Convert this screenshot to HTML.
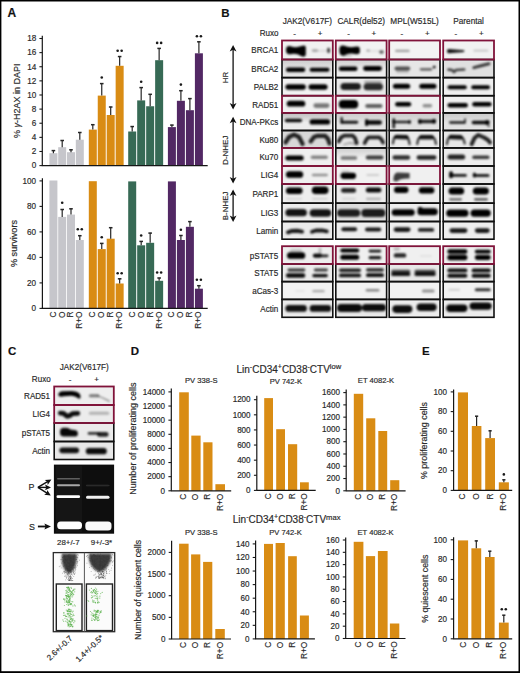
<!DOCTYPE html>
<html><head><meta charset="utf-8"><style>
html,body{margin:0;padding:0;background:#fff;}
svg{display:block;font-family:"Liberation Sans", sans-serif;}
text{stroke:#2a2a2a;stroke-width:0.18px;}
</style></head><body>
<svg width="520" height="673" viewBox="0 0 520 673">
<defs>
<filter id="bl" x="-20%" y="-50%" width="140%" height="200%"><feGaussianBlur stdDeviation="0.8"/></filter>
<linearGradient id="sh" x1="0" y1="0" x2="0" y2="1"><stop offset="0" stop-color="#b8b8b8"/><stop offset="1" stop-color="#b8b8b8" stop-opacity="0"/></linearGradient>
<filter id="bl2" x="-20%" y="-50%" width="140%" height="200%"><feGaussianBlur stdDeviation="0.6"/></filter>
<filter id="bl3" x="-20%" y="-50%" width="140%" height="200%"><feGaussianBlur stdDeviation="1.2"/></filter>
</defs>
<rect x="0" y="0" width="520" height="673" fill="#000"/>
<rect x="1.4" y="1.5" width="517.1" height="669.7" fill="#fff"/>
<text x="7.60" y="17.40" font-size="12" text-anchor="start" font-weight="bold" fill="#111" >A</text>
<rect x="49.40" y="153.20" width="8.00" height="12.40" fill="#c6c6cb" />
<rect x="58.20" y="147.20" width="8.00" height="18.40" fill="#c6c6cb" />
<rect x="67.00" y="152.20" width="8.00" height="13.40" fill="#c6c6cb" />
<rect x="75.80" y="139.70" width="8.00" height="25.90" fill="#c6c6cb" />
<rect x="88.80" y="129.60" width="8.00" height="36.00" fill="#d98c14" />
<rect x="97.75" y="95.60" width="8.00" height="70.00" fill="#d98c14" />
<rect x="106.70" y="115.00" width="8.00" height="50.60" fill="#d98c14" />
<rect x="115.65" y="65.80" width="8.00" height="99.80" fill="#d98c14" />
<rect x="128.20" y="131.50" width="8.00" height="34.10" fill="#376a55" />
<rect x="137.18" y="100.40" width="8.00" height="65.20" fill="#376a55" />
<rect x="146.16" y="106.25" width="8.00" height="59.35" fill="#376a55" />
<rect x="155.14" y="60.20" width="8.00" height="105.40" fill="#376a55" />
<rect x="167.90" y="127.10" width="8.00" height="38.50" fill="#522864" />
<rect x="176.90" y="100.80" width="8.00" height="64.80" fill="#522864" />
<rect x="185.90" y="110.20" width="8.00" height="55.40" fill="#522864" />
<rect x="194.90" y="53.30" width="8.00" height="112.30" fill="#522864" />
<line x1="53.40" y1="150.30" x2="53.40" y2="153.20" stroke="#262626" stroke-width="1.2" />
<line x1="51.60" y1="150.60" x2="55.20" y2="150.60" stroke="#262626" stroke-width="1.5" />
<line x1="62.20" y1="140.20" x2="62.20" y2="147.20" stroke="#262626" stroke-width="1.2" />
<line x1="60.40" y1="140.50" x2="64.00" y2="140.50" stroke="#262626" stroke-width="1.5" />
<line x1="71.00" y1="149.50" x2="71.00" y2="152.20" stroke="#262626" stroke-width="1.2" />
<line x1="69.20" y1="149.80" x2="72.80" y2="149.80" stroke="#262626" stroke-width="1.5" />
<line x1="79.80" y1="132.20" x2="79.80" y2="139.70" stroke="#262626" stroke-width="1.2" />
<line x1="78.00" y1="132.50" x2="81.60" y2="132.50" stroke="#262626" stroke-width="1.5" />
<line x1="92.80" y1="124.40" x2="92.80" y2="129.60" stroke="#262626" stroke-width="1.2" />
<line x1="91.00" y1="124.70" x2="94.60" y2="124.70" stroke="#262626" stroke-width="1.5" />
<line x1="101.75" y1="83.30" x2="101.75" y2="95.60" stroke="#262626" stroke-width="1.2" />
<line x1="99.95" y1="83.60" x2="103.55" y2="83.60" stroke="#262626" stroke-width="1.5" />
<circle cx="101.75" cy="77.50" r="1.3" fill="#1a1a1a"/>
<line x1="110.70" y1="106.70" x2="110.70" y2="115.00" stroke="#262626" stroke-width="1.2" />
<line x1="108.90" y1="107.00" x2="112.50" y2="107.00" stroke="#262626" stroke-width="1.5" />
<line x1="119.65" y1="56.25" x2="119.65" y2="65.80" stroke="#262626" stroke-width="1.2" />
<line x1="117.85" y1="56.55" x2="121.45" y2="56.55" stroke="#262626" stroke-width="1.5" />
<circle cx="117.65" cy="50.80" r="1.3" fill="#1a1a1a"/>
<circle cx="121.65" cy="50.80" r="1.3" fill="#1a1a1a"/>
<line x1="132.20" y1="126.25" x2="132.20" y2="131.50" stroke="#262626" stroke-width="1.2" />
<line x1="130.40" y1="126.55" x2="134.00" y2="126.55" stroke="#262626" stroke-width="1.5" />
<line x1="141.18" y1="87.30" x2="141.18" y2="100.40" stroke="#262626" stroke-width="1.2" />
<line x1="139.38" y1="87.60" x2="142.98" y2="87.60" stroke="#262626" stroke-width="1.5" />
<circle cx="141.18" cy="81.70" r="1.3" fill="#1a1a1a"/>
<line x1="150.16" y1="94.00" x2="150.16" y2="106.25" stroke="#262626" stroke-width="1.2" />
<line x1="148.36" y1="94.30" x2="151.96" y2="94.30" stroke="#262626" stroke-width="1.5" />
<line x1="159.14" y1="48.10" x2="159.14" y2="60.20" stroke="#262626" stroke-width="1.2" />
<line x1="157.34" y1="48.40" x2="160.94" y2="48.40" stroke="#262626" stroke-width="1.5" />
<circle cx="157.14" cy="42.90" r="1.3" fill="#1a1a1a"/>
<circle cx="161.14" cy="42.90" r="1.3" fill="#1a1a1a"/>
<line x1="171.90" y1="124.80" x2="171.90" y2="127.10" stroke="#262626" stroke-width="1.2" />
<line x1="170.10" y1="125.10" x2="173.70" y2="125.10" stroke="#262626" stroke-width="1.5" />
<line x1="180.90" y1="90.40" x2="180.90" y2="100.80" stroke="#262626" stroke-width="1.2" />
<line x1="179.10" y1="90.70" x2="182.70" y2="90.70" stroke="#262626" stroke-width="1.5" />
<circle cx="180.90" cy="84.60" r="1.3" fill="#1a1a1a"/>
<line x1="189.90" y1="98.30" x2="189.90" y2="110.20" stroke="#262626" stroke-width="1.2" />
<line x1="188.10" y1="98.60" x2="191.70" y2="98.60" stroke="#262626" stroke-width="1.5" />
<line x1="198.90" y1="41.50" x2="198.90" y2="53.30" stroke="#262626" stroke-width="1.2" />
<line x1="197.10" y1="41.80" x2="200.70" y2="41.80" stroke="#262626" stroke-width="1.5" />
<circle cx="196.90" cy="36.25" r="1.3" fill="#1a1a1a"/>
<circle cx="200.90" cy="36.25" r="1.3" fill="#1a1a1a"/>
<line x1="41.70" y1="165.60" x2="207.70" y2="165.60" stroke="#161616" stroke-width="1.2" />
<line x1="42.30" y1="35.80" x2="42.30" y2="165.60" stroke="#161616" stroke-width="1.2" />
<line x1="39.40" y1="165.60" x2="42.30" y2="165.60" stroke="#161616" stroke-width="1.08" />
<text x="0" y="0" font-size="8.61" text-anchor="end" font-weight="normal" fill="#2a2a2a" transform="translate(36.30 168.43) scale(0.95 1)" >0</text>
<line x1="39.40" y1="151.48" x2="42.30" y2="151.48" stroke="#161616" stroke-width="1.08" />
<text x="0" y="0" font-size="8.61" text-anchor="end" font-weight="normal" fill="#2a2a2a" transform="translate(36.30 154.31) scale(0.95 1)" >2</text>
<line x1="39.40" y1="137.36" x2="42.30" y2="137.36" stroke="#161616" stroke-width="1.08" />
<text x="0" y="0" font-size="8.61" text-anchor="end" font-weight="normal" fill="#2a2a2a" transform="translate(36.30 140.18) scale(0.95 1)" >4</text>
<line x1="39.40" y1="123.23" x2="42.30" y2="123.23" stroke="#161616" stroke-width="1.08" />
<text x="0" y="0" font-size="8.61" text-anchor="end" font-weight="normal" fill="#2a2a2a" transform="translate(36.30 126.06) scale(0.95 1)" >6</text>
<line x1="39.40" y1="109.11" x2="42.30" y2="109.11" stroke="#161616" stroke-width="1.08" />
<text x="0" y="0" font-size="8.61" text-anchor="end" font-weight="normal" fill="#2a2a2a" transform="translate(36.30 111.94) scale(0.95 1)" >8</text>
<line x1="39.40" y1="94.99" x2="42.30" y2="94.99" stroke="#161616" stroke-width="1.08" />
<text x="0" y="0" font-size="8.61" text-anchor="end" font-weight="normal" fill="#2a2a2a" transform="translate(36.30 97.82) scale(0.95 1)" >10</text>
<line x1="39.40" y1="80.87" x2="42.30" y2="80.87" stroke="#161616" stroke-width="1.08" />
<text x="0" y="0" font-size="8.61" text-anchor="end" font-weight="normal" fill="#2a2a2a" transform="translate(36.30 83.70) scale(0.95 1)" >12</text>
<line x1="39.40" y1="66.74" x2="42.30" y2="66.74" stroke="#161616" stroke-width="1.08" />
<text x="0" y="0" font-size="8.61" text-anchor="end" font-weight="normal" fill="#2a2a2a" transform="translate(36.30 69.57) scale(0.95 1)" >14</text>
<line x1="39.40" y1="52.62" x2="42.30" y2="52.62" stroke="#161616" stroke-width="1.08" />
<text x="0" y="0" font-size="8.61" text-anchor="end" font-weight="normal" fill="#2a2a2a" transform="translate(36.30 55.45) scale(0.95 1)" >16</text>
<line x1="39.40" y1="38.50" x2="42.30" y2="38.50" stroke="#161616" stroke-width="1.08" />
<text x="0" y="0" font-size="8.61" text-anchor="end" font-weight="normal" fill="#2a2a2a" transform="translate(36.30 41.33) scale(0.95 1)" >18</text>
<text x="19.90" y="100.80" font-size="9.0" text-anchor="middle" font-weight="normal" fill="#2a2a2a" transform="rotate(-90 19.90 100.80)" >% <tspan font-style="italic">γ</tspan>-H2AX in DAPI</text>
<rect x="49.40" y="180.50" width="8.00" height="127.90" fill="#c6c6cb" />
<rect x="58.20" y="216.90" width="8.00" height="91.50" fill="#c6c6cb" />
<rect x="67.00" y="214.60" width="8.00" height="93.80" fill="#c6c6cb" />
<rect x="75.80" y="240.00" width="8.00" height="68.40" fill="#c6c6cb" />
<rect x="88.80" y="181.20" width="8.00" height="127.20" fill="#d98c14" />
<rect x="97.75" y="249.10" width="8.00" height="59.30" fill="#d98c14" />
<rect x="106.70" y="238.70" width="8.00" height="69.70" fill="#d98c14" />
<rect x="115.65" y="283.50" width="8.00" height="24.90" fill="#d98c14" />
<rect x="128.20" y="181.40" width="8.00" height="127.00" fill="#376a55" />
<rect x="137.18" y="245.30" width="8.00" height="63.10" fill="#376a55" />
<rect x="146.16" y="242.80" width="8.00" height="65.60" fill="#376a55" />
<rect x="155.14" y="280.80" width="8.00" height="27.60" fill="#376a55" />
<rect x="167.90" y="181.40" width="8.00" height="127.00" fill="#522864" />
<rect x="176.90" y="240.00" width="8.00" height="68.40" fill="#522864" />
<rect x="185.90" y="226.80" width="8.00" height="81.60" fill="#522864" />
<rect x="194.90" y="288.70" width="8.00" height="19.70" fill="#522864" />
<line x1="62.20" y1="209.20" x2="62.20" y2="216.90" stroke="#262626" stroke-width="1.2" />
<line x1="60.40" y1="209.50" x2="64.00" y2="209.50" stroke="#262626" stroke-width="1.5" />
<circle cx="62.20" cy="202.80" r="1.3" fill="#1a1a1a"/>
<line x1="71.00" y1="208.50" x2="71.00" y2="214.60" stroke="#262626" stroke-width="1.2" />
<line x1="69.20" y1="208.80" x2="72.80" y2="208.80" stroke="#262626" stroke-width="1.5" />
<line x1="79.80" y1="235.40" x2="79.80" y2="240.00" stroke="#262626" stroke-width="1.2" />
<line x1="78.00" y1="235.70" x2="81.60" y2="235.70" stroke="#262626" stroke-width="1.5" />
<circle cx="77.80" cy="229.20" r="1.3" fill="#1a1a1a"/>
<circle cx="81.80" cy="229.20" r="1.3" fill="#1a1a1a"/>
<line x1="101.75" y1="243.10" x2="101.75" y2="249.10" stroke="#262626" stroke-width="1.2" />
<line x1="99.95" y1="243.40" x2="103.55" y2="243.40" stroke="#262626" stroke-width="1.5" />
<circle cx="101.75" cy="237.20" r="1.3" fill="#1a1a1a"/>
<line x1="110.70" y1="227.40" x2="110.70" y2="238.70" stroke="#262626" stroke-width="1.2" />
<line x1="108.90" y1="227.70" x2="112.50" y2="227.70" stroke="#262626" stroke-width="1.5" />
<line x1="119.65" y1="278.50" x2="119.65" y2="283.50" stroke="#262626" stroke-width="1.2" />
<line x1="117.85" y1="278.80" x2="121.45" y2="278.80" stroke="#262626" stroke-width="1.5" />
<circle cx="117.65" cy="273.30" r="1.3" fill="#1a1a1a"/>
<circle cx="121.65" cy="273.30" r="1.3" fill="#1a1a1a"/>
<line x1="141.18" y1="241.10" x2="141.18" y2="245.30" stroke="#262626" stroke-width="1.2" />
<line x1="139.38" y1="241.40" x2="142.98" y2="241.40" stroke="#262626" stroke-width="1.5" />
<circle cx="141.18" cy="235.50" r="1.3" fill="#1a1a1a"/>
<line x1="150.16" y1="232.80" x2="150.16" y2="242.80" stroke="#262626" stroke-width="1.2" />
<line x1="148.36" y1="233.10" x2="151.96" y2="233.10" stroke="#262626" stroke-width="1.5" />
<line x1="159.14" y1="277.70" x2="159.14" y2="280.80" stroke="#262626" stroke-width="1.2" />
<line x1="157.34" y1="278.00" x2="160.94" y2="278.00" stroke="#262626" stroke-width="1.5" />
<circle cx="157.14" cy="272.50" r="1.3" fill="#1a1a1a"/>
<circle cx="161.14" cy="272.50" r="1.3" fill="#1a1a1a"/>
<line x1="180.90" y1="235.20" x2="180.90" y2="240.00" stroke="#262626" stroke-width="1.2" />
<line x1="179.10" y1="235.50" x2="182.70" y2="235.50" stroke="#262626" stroke-width="1.5" />
<circle cx="180.90" cy="229.80" r="1.3" fill="#1a1a1a"/>
<line x1="189.90" y1="221.30" x2="189.90" y2="226.80" stroke="#262626" stroke-width="1.2" />
<line x1="188.10" y1="221.60" x2="191.70" y2="221.60" stroke="#262626" stroke-width="1.5" />
<line x1="198.90" y1="285.40" x2="198.90" y2="288.70" stroke="#262626" stroke-width="1.2" />
<line x1="197.10" y1="285.70" x2="200.70" y2="285.70" stroke="#262626" stroke-width="1.5" />
<circle cx="196.90" cy="279.80" r="1.3" fill="#1a1a1a"/>
<circle cx="200.90" cy="279.80" r="1.3" fill="#1a1a1a"/>
<line x1="41.70" y1="308.40" x2="207.70" y2="308.40" stroke="#161616" stroke-width="1.2" />
<line x1="42.40" y1="178.30" x2="42.40" y2="308.40" stroke="#161616" stroke-width="1.2" />
<line x1="39.50" y1="308.40" x2="42.40" y2="308.40" stroke="#161616" stroke-width="1.08" />
<text x="0" y="0" font-size="8.61" text-anchor="end" font-weight="normal" fill="#2a2a2a" transform="translate(36.00 311.23) scale(0.95 1)" >0</text>
<line x1="39.50" y1="282.90" x2="42.40" y2="282.90" stroke="#161616" stroke-width="1.08" />
<text x="0" y="0" font-size="8.61" text-anchor="end" font-weight="normal" fill="#2a2a2a" transform="translate(36.00 285.73) scale(0.95 1)" >20</text>
<line x1="39.50" y1="257.40" x2="42.40" y2="257.40" stroke="#161616" stroke-width="1.08" />
<text x="0" y="0" font-size="8.61" text-anchor="end" font-weight="normal" fill="#2a2a2a" transform="translate(36.00 260.23) scale(0.95 1)" >40</text>
<line x1="39.50" y1="231.90" x2="42.40" y2="231.90" stroke="#161616" stroke-width="1.08" />
<text x="0" y="0" font-size="8.61" text-anchor="end" font-weight="normal" fill="#2a2a2a" transform="translate(36.00 234.73) scale(0.95 1)" >60</text>
<line x1="39.50" y1="206.40" x2="42.40" y2="206.40" stroke="#161616" stroke-width="1.08" />
<text x="0" y="0" font-size="8.61" text-anchor="end" font-weight="normal" fill="#2a2a2a" transform="translate(36.00 209.23) scale(0.95 1)" >80</text>
<line x1="39.50" y1="180.90" x2="42.40" y2="180.90" stroke="#161616" stroke-width="1.08" />
<text x="0" y="0" font-size="8.61" text-anchor="end" font-weight="normal" fill="#2a2a2a" transform="translate(36.00 183.73) scale(0.95 1)" >100</text>
<text x="16.90" y="243.50" font-size="9.1" text-anchor="middle" font-weight="normal" fill="#2a2a2a" transform="rotate(-90 16.90 243.50)" >% survivors</text>
<text x="0" y="0" font-size="8.3" text-anchor="end" fill="#2a2a2a" transform="translate(55.89 311.50) rotate(-90)">C</text>
<text x="0" y="0" font-size="8.3" text-anchor="end" fill="#2a2a2a" transform="translate(64.69 311.50) rotate(-90)">O</text>
<text x="0" y="0" font-size="8.3" text-anchor="end" fill="#2a2a2a" transform="translate(73.49 311.50) rotate(-90)">R</text>
<text x="0" y="0" font-size="8.3" text-anchor="end" fill="#2a2a2a" transform="translate(82.29 311.50) rotate(-90)">R+O</text>
<text x="0" y="0" font-size="8.3" text-anchor="end" fill="#2a2a2a" transform="translate(95.29 311.50) rotate(-90)">C</text>
<text x="0" y="0" font-size="8.3" text-anchor="end" fill="#2a2a2a" transform="translate(104.24 311.50) rotate(-90)">O</text>
<text x="0" y="0" font-size="8.3" text-anchor="end" fill="#2a2a2a" transform="translate(113.19 311.50) rotate(-90)">R</text>
<text x="0" y="0" font-size="8.3" text-anchor="end" fill="#2a2a2a" transform="translate(122.14 311.50) rotate(-90)">R+O</text>
<text x="0" y="0" font-size="8.3" text-anchor="end" fill="#2a2a2a" transform="translate(134.69 311.50) rotate(-90)">C</text>
<text x="0" y="0" font-size="8.3" text-anchor="end" fill="#2a2a2a" transform="translate(143.67 311.50) rotate(-90)">O</text>
<text x="0" y="0" font-size="8.3" text-anchor="end" fill="#2a2a2a" transform="translate(152.65 311.50) rotate(-90)">R</text>
<text x="0" y="0" font-size="8.3" text-anchor="end" fill="#2a2a2a" transform="translate(161.63 311.50) rotate(-90)">R+O</text>
<text x="0" y="0" font-size="8.3" text-anchor="end" fill="#2a2a2a" transform="translate(174.39 311.50) rotate(-90)">C</text>
<text x="0" y="0" font-size="8.3" text-anchor="end" fill="#2a2a2a" transform="translate(183.39 311.50) rotate(-90)">O</text>
<text x="0" y="0" font-size="8.3" text-anchor="end" fill="#2a2a2a" transform="translate(192.39 311.50) rotate(-90)">R</text>
<text x="0" y="0" font-size="8.3" text-anchor="end" fill="#2a2a2a" transform="translate(201.39 311.50) rotate(-90)">R+O</text>
<text x="221.20" y="17.00" font-size="11.5" text-anchor="start" font-weight="bold" fill="#111" >B</text>
<text x="0" y="0" font-size="8.6" text-anchor="middle" font-weight="normal" fill="#2a2a2a" transform="translate(307.40 24.00) scale(0.96 1)" >JAK2(V617F)</text>
<text x="294.70" y="35.50" font-size="8" text-anchor="middle" font-weight="normal" fill="#2a2a2a" >-</text>
<text x="320.10" y="36.00" font-size="8" text-anchor="middle" font-weight="normal" fill="#2a2a2a" >+</text>
<text x="0" y="0" font-size="8.6" text-anchor="middle" font-weight="normal" fill="#2a2a2a" transform="translate(361.20 24.00) scale(0.96 1)" >CALR(del52)</text>
<text x="348.50" y="35.50" font-size="8" text-anchor="middle" font-weight="normal" fill="#2a2a2a" >-</text>
<text x="373.90" y="36.00" font-size="8" text-anchor="middle" font-weight="normal" fill="#2a2a2a" >+</text>
<text x="0" y="0" font-size="8.6" text-anchor="middle" font-weight="normal" fill="#2a2a2a" transform="translate(414.60 24.00) scale(0.96 1)" >MPL(W515L)</text>
<text x="401.90" y="35.50" font-size="8" text-anchor="middle" font-weight="normal" fill="#2a2a2a" >-</text>
<text x="427.30" y="36.00" font-size="8" text-anchor="middle" font-weight="normal" fill="#2a2a2a" >+</text>
<text x="0" y="0" font-size="8.6" text-anchor="middle" font-weight="normal" fill="#2a2a2a" transform="translate(468.60 24.00) scale(0.96 1)" >Parental</text>
<text x="455.90" y="35.50" font-size="8" text-anchor="middle" font-weight="normal" fill="#2a2a2a" >-</text>
<text x="481.30" y="36.00" font-size="8" text-anchor="middle" font-weight="normal" fill="#2a2a2a" >+</text>
<text x="0" y="0" font-size="8.7" text-anchor="end" font-weight="normal" fill="#2a2a2a" transform="translate(278.50 35.90) scale(0.93 1)" >Ruxo</text>
<text x="0" y="0" font-size="8.8" text-anchor="end" font-weight="normal" fill="#2a2a2a" transform="translate(278.30 53.40) scale(0.92 1)" >BRCA1</text>
<text x="0" y="0" font-size="8.8" text-anchor="end" font-weight="normal" fill="#2a2a2a" transform="translate(278.30 71.95) scale(0.92 1)" >BRCA2</text>
<text x="0" y="0" font-size="8.8" text-anchor="end" font-weight="normal" fill="#2a2a2a" transform="translate(278.30 90.05) scale(0.92 1)" >PALB2</text>
<text x="0" y="0" font-size="8.8" text-anchor="end" font-weight="normal" fill="#2a2a2a" transform="translate(278.30 107.70) scale(0.92 1)" >RAD51</text>
<text x="0" y="0" font-size="8.8" text-anchor="end" font-weight="normal" fill="#2a2a2a" transform="translate(278.30 125.10) scale(0.92 1)" >DNA-PKcs</text>
<text x="0" y="0" font-size="8.8" text-anchor="end" font-weight="normal" fill="#2a2a2a" transform="translate(278.30 142.60) scale(0.92 1)" >Ku80</text>
<text x="0" y="0" font-size="8.8" text-anchor="end" font-weight="normal" fill="#2a2a2a" transform="translate(278.30 160.35) scale(0.92 1)" >Ku70</text>
<text x="0" y="0" font-size="8.8" text-anchor="end" font-weight="normal" fill="#2a2a2a" transform="translate(278.30 178.40) scale(0.92 1)" >LIG4</text>
<text x="0" y="0" font-size="8.8" text-anchor="end" font-weight="normal" fill="#2a2a2a" transform="translate(278.30 197.00) scale(0.92 1)" >PARP1</text>
<text x="0" y="0" font-size="8.8" text-anchor="end" font-weight="normal" fill="#2a2a2a" transform="translate(278.30 215.75) scale(0.92 1)" >LIG3</text>
<text x="0" y="0" font-size="8.8" text-anchor="end" font-weight="normal" fill="#2a2a2a" transform="translate(278.30 233.75) scale(0.92 1)" >Lamin</text>
<text x="0" y="0" font-size="8.8" text-anchor="end" font-weight="normal" fill="#2a2a2a" transform="translate(278.30 258.50) scale(0.92 1)" >pSTAT5</text>
<text x="0" y="0" font-size="8.8" text-anchor="end" font-weight="normal" fill="#2a2a2a" transform="translate(278.30 276.20) scale(0.92 1)" >STAT5</text>
<text x="0" y="0" font-size="8.8" text-anchor="end" font-weight="normal" fill="#2a2a2a" transform="translate(278.30 293.90) scale(0.92 1)" >aCas-3</text>
<text x="0" y="0" font-size="8.8" text-anchor="end" font-weight="normal" fill="#2a2a2a" transform="translate(278.30 311.75) scale(0.92 1)" >Actin</text>
<line x1="233.10" y1="46.90" x2="233.10" y2="107.50" stroke="#111" stroke-width="1.3" />
<path d="M233.10 44.90 L229.70 51.50 L233.10 49.70 L236.50 51.50 Z" fill="#111"/>
<path d="M233.10 109.50 L229.70 102.90 L233.10 104.70 L236.50 102.90 Z" fill="#111"/>
<line x1="233.10" y1="118.70" x2="233.10" y2="181.50" stroke="#111" stroke-width="1.3" />
<path d="M233.10 116.70 L229.70 123.30 L233.10 121.50 L236.50 123.30 Z" fill="#111"/>
<path d="M233.10 183.50 L229.70 176.90 L233.10 178.70 L236.50 176.90 Z" fill="#111"/>
<line x1="233.10" y1="191.40" x2="233.10" y2="220.00" stroke="#111" stroke-width="1.3" />
<path d="M233.10 189.40 L229.70 196.00 L233.10 194.20 L236.50 196.00 Z" fill="#111"/>
<path d="M233.10 222.00 L229.70 215.40 L233.10 217.20 L236.50 215.40 Z" fill="#111"/>
<text x="228.30" y="77.50" font-size="7.8" text-anchor="middle" font-weight="normal" fill="#2a2a2a" transform="rotate(-90 228.30 77.50)" >HR</text>
<text x="228.30" y="150.20" font-size="8.0" text-anchor="middle" font-weight="normal" fill="#2a2a2a" transform="rotate(-90 228.30 150.20)" >D-NHEJ</text>
<text x="228.00" y="205.90" font-size="7.9" text-anchor="middle" font-weight="normal" fill="#2a2a2a" transform="rotate(-90 228.00 205.90)" >B-NHEJ</text>
<rect x="282.00" y="40.50" width="50.80" height="19.00" fill="#f1f1f1" />
<rect x="282.00" y="59.50" width="50.80" height="18.10" fill="#e6e6e6" />
<rect x="282.00" y="59.50" width="50.80" height="9.95" fill="url(#sh)" opacity="0.6"/>
<rect x="282.00" y="77.60" width="50.80" height="18.10" fill="#f2f2f2" />
<rect x="282.00" y="95.70" width="50.80" height="17.20" fill="#f2f2f2" />
<rect x="282.00" y="112.90" width="50.80" height="17.60" fill="#ececec" />
<rect x="282.00" y="112.90" width="50.80" height="9.68" fill="url(#sh)" opacity="0.9"/>
<rect x="282.00" y="130.50" width="50.80" height="17.40" fill="#d8d8d8" />
<rect x="282.00" y="147.90" width="50.80" height="18.10" fill="#efefef" />
<rect x="282.00" y="166.00" width="50.80" height="18.00" fill="#f0f0f0" />
<rect x="282.00" y="184.00" width="50.80" height="19.20" fill="#eeeeee" />
<rect x="282.00" y="203.20" width="50.80" height="18.30" fill="#ececec" />
<rect x="282.00" y="221.50" width="50.80" height="17.70" fill="#ececec" />
<rect x="282.00" y="246.20" width="50.80" height="17.80" fill="#eeeeee" />
<rect x="282.00" y="264.00" width="50.80" height="17.60" fill="#ececec" />
<rect x="282.00" y="281.60" width="50.80" height="17.80" fill="#f2f2f2" />
<rect x="282.00" y="299.40" width="50.80" height="17.90" fill="#ebebeb" />
<rect x="335.80" y="40.50" width="50.80" height="19.00" fill="#f2f2f2" />
<rect x="335.80" y="59.50" width="50.80" height="18.10" fill="#eeeeee" />
<rect x="335.80" y="59.50" width="50.80" height="9.95" fill="url(#sh)" opacity="0.6"/>
<rect x="335.80" y="77.60" width="50.80" height="18.10" fill="#e9e9e9" />
<rect x="335.80" y="95.70" width="50.80" height="17.20" fill="#f2f2f2" />
<rect x="335.80" y="112.90" width="50.80" height="17.60" fill="#e4e4e4" />
<rect x="335.80" y="112.90" width="50.80" height="9.68" fill="url(#sh)" opacity="0.6"/>
<rect x="335.80" y="130.50" width="50.80" height="17.40" fill="#e6e6e6" />
<rect x="335.80" y="147.90" width="50.80" height="18.10" fill="#eeeeee" />
<rect x="335.80" y="147.90" width="50.80" height="9.95" fill="url(#sh)" opacity="0.6"/>
<rect x="335.80" y="166.00" width="50.80" height="18.00" fill="#f1f1f1" />
<rect x="335.80" y="184.00" width="50.80" height="19.20" fill="#ececec" />
<rect x="335.80" y="203.20" width="50.80" height="18.30" fill="#dcdcdc" />
<rect x="335.80" y="221.50" width="50.80" height="17.70" fill="#eeeeee" />
<rect x="335.80" y="246.20" width="50.80" height="17.80" fill="#f0f0f0" />
<rect x="335.80" y="264.00" width="50.80" height="17.60" fill="#ececec" />
<rect x="335.80" y="281.60" width="50.80" height="17.80" fill="#f2f2f2" />
<rect x="335.80" y="299.40" width="50.80" height="17.90" fill="#e9e9e9" />
<rect x="389.20" y="40.50" width="50.80" height="19.00" fill="#f3f3f3" />
<rect x="389.20" y="59.50" width="50.80" height="18.10" fill="#e6e6e6" />
<rect x="389.20" y="77.60" width="50.80" height="18.10" fill="#eeeeee" />
<rect x="389.20" y="95.70" width="50.80" height="17.20" fill="#f0f0f0" />
<rect x="389.20" y="112.90" width="50.80" height="17.60" fill="#e2e2e2" />
<rect x="389.20" y="112.90" width="50.80" height="9.68" fill="url(#sh)" opacity="0.6"/>
<rect x="389.20" y="130.50" width="50.80" height="17.40" fill="#ebebeb" />
<rect x="389.20" y="147.90" width="50.80" height="18.10" fill="#f0f0f0" />
<rect x="389.20" y="166.00" width="50.80" height="18.00" fill="#f0f0f0" />
<rect x="389.20" y="184.00" width="50.80" height="19.20" fill="#eeeeee" />
<rect x="389.20" y="203.20" width="50.80" height="18.30" fill="#eeeeee" />
<rect x="389.20" y="221.50" width="50.80" height="17.70" fill="#eeeeee" />
<rect x="389.20" y="246.20" width="50.80" height="17.80" fill="#f0f0f0" />
<rect x="389.20" y="264.00" width="50.80" height="17.60" fill="#e8e8e8" />
<rect x="389.20" y="281.60" width="50.80" height="17.80" fill="#f2f2f2" />
<rect x="389.20" y="299.40" width="50.80" height="17.90" fill="#ececec" />
<rect x="443.20" y="40.50" width="50.80" height="19.00" fill="#f2f2f2" />
<rect x="443.20" y="59.50" width="50.80" height="18.10" fill="#e0e0e0" />
<rect x="443.20" y="77.60" width="50.80" height="18.10" fill="#efefef" />
<rect x="443.20" y="95.70" width="50.80" height="17.20" fill="#f0f0f0" />
<rect x="443.20" y="112.90" width="50.80" height="17.60" fill="#e2e2e2" />
<rect x="443.20" y="112.90" width="50.80" height="9.68" fill="url(#sh)" opacity="0.6"/>
<rect x="443.20" y="130.50" width="50.80" height="17.40" fill="#e8e8e8" />
<rect x="443.20" y="147.90" width="50.80" height="18.10" fill="#ececec" />
<rect x="443.20" y="166.00" width="50.80" height="18.00" fill="#ebebeb" />
<rect x="443.20" y="184.00" width="50.80" height="19.20" fill="#eeeeee" />
<rect x="443.20" y="203.20" width="50.80" height="18.30" fill="#eeeeee" />
<rect x="443.20" y="221.50" width="50.80" height="17.70" fill="#efefef" />
<rect x="443.20" y="246.20" width="50.80" height="17.80" fill="#efefef" />
<rect x="443.20" y="264.00" width="50.80" height="17.60" fill="#ececec" />
<rect x="443.20" y="281.60" width="50.80" height="17.80" fill="#f2f2f2" />
<rect x="443.20" y="299.40" width="50.80" height="17.90" fill="#ececec" />
<g filter="url(#bl)"><path d="M286 50 C286 46.3 288 45.8 290.5 46.2 Q296 48.2 301.5 46 Q305.8 44.3 305.8 47.5 L305.8 54.5 Q305.8 57.6 301.5 56.2 Q296 52.8 290.5 54.2 Q286 55 286 50 Z" fill="#000" fill-opacity="1.0"/><rect x="311.80" y="49.30" width="6.20" height="2.60" rx="1.30" fill="#000" fill-opacity="0.3"/><rect x="317.00" y="50.00" width="10.50" height="1.60" rx="0.80" fill="#000" fill-opacity="0.12"/><rect x="327.20" y="47.80" width="2.80" height="5.20" rx="1.30" fill="#000" fill-opacity="0.75"/><rect x="285.90" y="67.50" width="19.40" height="4.50" rx="2.25" fill="#000" fill-opacity="1.0"/><rect x="309.60" y="67.80" width="19.90" height="4.00" rx="2.00" fill="#000" fill-opacity="1.0"/><rect x="285.40" y="84.20" width="20.40" height="5.60" rx="2.80" fill="#000" fill-opacity="1.0"/><rect x="308.50" y="84.20" width="19.10" height="5.60" rx="2.80" fill="#000" fill-opacity="1.0"/><rect x="286.70" y="100.80" width="18.60" height="5.80" rx="2.90" fill="#000" fill-opacity="1.0"/><rect x="313.40" y="103.30" width="16.10" height="4.60" rx="2.30" fill="#000" fill-opacity="0.5"/><rect x="284.80" y="118.70" width="17.30" height="3.60" rx="1.80" fill="#000" fill-opacity="0.95"/><rect x="309.60" y="119.25" width="20.50" height="5.30" rx="2.65" fill="#000" fill-opacity="1.0"/><path d="M285.50 142.50 L289.00 137.00 L294.00 134.60 L299.00 137.00 L302.60 144.00" fill="none" stroke="#000" stroke-opacity="0.85" stroke-width="4.2" stroke-linecap="round" stroke-linejoin="round"/><path d="M310.70 141.40 L314.00 137.00 L317.70 135.80 L325.20 135.80 L328.00 139.00 L329.50 143.50" fill="none" stroke="#000" stroke-opacity="0.85" stroke-width="4.2" stroke-linecap="round" stroke-linejoin="round"/><rect x="285.40" y="155.60" width="18.30" height="5.00" rx="2.50" fill="#000" fill-opacity="1.0"/><rect x="310.70" y="155.60" width="17.20" height="3.40" rx="1.70" fill="#000" fill-opacity="0.45"/><rect x="285.90" y="171.15" width="17.30" height="6.70" rx="3.35" fill="#000" fill-opacity="1.0"/><rect x="311.80" y="173.70" width="16.10" height="2.60" rx="1.30" fill="#000" fill-opacity="0.4"/><rect x="285.90" y="187.40" width="16.70" height="6.60" rx="3.30" fill="#000" fill-opacity="1.0"/><rect x="311.80" y="186.40" width="16.70" height="7.60" rx="3.80" fill="#000" fill-opacity="1.0"/><rect x="286.00" y="197.80" width="16.00" height="2.00" rx="1.00" fill="#000" fill-opacity="0.1"/><rect x="312.00" y="197.80" width="16.00" height="2.00" rx="1.00" fill="#000" fill-opacity="0.12"/><rect x="285.40" y="209.10" width="21.50" height="7.20" rx="3.60" fill="#000" fill-opacity="0.92"/><rect x="309.60" y="209.20" width="21.60" height="7.60" rx="3.80" fill="#000" fill-opacity="0.92"/><path d="M288.00 232.30 L292.00 230.90 L297.00 230.70 L302.00 231.60" fill="none" stroke="#000" stroke-opacity="0.9" stroke-width="4.0" stroke-linecap="round" stroke-linejoin="round"/><path d="M312.00 231.80 L316.00 230.50 L322.00 230.40 L326.80 231.40" fill="none" stroke="#000" stroke-opacity="0.9" stroke-width="3.8" stroke-linecap="round" stroke-linejoin="round"/><rect x="287.00" y="252.15" width="18.30" height="6.70" rx="3.35" fill="#000" fill-opacity="1.0"/><rect x="290.00" y="249.00" width="12.00" height="3.00" rx="1.50" fill="#000" fill-opacity="0.18"/><rect x="312.80" y="254.40" width="15.70" height="2.80" rx="1.40" fill="#000" fill-opacity="0.85"/><rect x="313.00" y="253.50" width="9.00" height="4.20" rx="2.10" fill="#000" fill-opacity="0.85"/><rect x="318.50" y="247.50" width="3.00" height="7.00" rx="1.50" fill="#000" fill-opacity="0.22"/><rect x="287.50" y="268.55" width="17.80" height="2.90" rx="1.45" fill="#000" fill-opacity="0.8"/><rect x="285.90" y="273.35" width="19.40" height="4.50" rx="2.25" fill="#000" fill-opacity="0.95"/><rect x="313.90" y="268.55" width="14.00" height="2.90" rx="1.45" fill="#000" fill-opacity="0.75"/><rect x="312.30" y="273.90" width="15.60" height="3.40" rx="1.70" fill="#000" fill-opacity="0.95"/><rect x="312.30" y="290.10" width="12.40" height="2.20" rx="1.10" fill="#000" fill-opacity="0.3"/><rect x="295.00" y="290.00" width="10.00" height="2.00" rx="1.00" fill="#000" fill-opacity="0.05"/><rect x="285.40" y="305.00" width="21.50" height="6.80" rx="3.40" fill="#000" fill-opacity="0.93"/><rect x="309.60" y="305.00" width="21.60" height="6.80" rx="3.40" fill="#000" fill-opacity="0.93"/><path d="M339.4 50.5 C339.4 46 341 45.4 343.5 45.6 Q349.5 48 355 46.8 Q359.8 45.9 359.8 49 L359.8 52 Q359.8 54.7 355 54 Q349.5 52.4 344 55.6 Q339.4 56.3 339.4 50.5 Z" fill="#000" fill-opacity="1.0"/><rect x="342.00" y="55.00" width="10.00" height="2.00" rx="1.00" fill="#000" fill-opacity="0.15"/><rect x="366.30" y="49.40" width="3.50" height="2.40" rx="1.20" fill="#000" fill-opacity="0.3"/><rect x="369.00" y="50.25" width="10.50" height="1.50" rx="0.75" fill="#000" fill-opacity="0.1"/><rect x="379.20" y="50.30" width="4.60" height="3.40" rx="1.70" fill="#000" fill-opacity="0.6"/><rect x="338.80" y="66.45" width="18.70" height="4.50" rx="2.25" fill="#000" fill-opacity="1.0"/><rect x="363.10" y="66.10" width="18.80" height="4.80" rx="2.40" fill="#000" fill-opacity="1.0"/><rect x="340.50" y="82.90" width="20.40" height="7.20" rx="3.60" fill="#000" fill-opacity="0.88"/><rect x="363.60" y="83.20" width="19.40" height="7.00" rx="3.50" fill="#000" fill-opacity="0.82"/><rect x="364.00" y="80.50" width="18.00" height="3.00" rx="1.50" fill="#000" fill-opacity="0.25"/><rect x="338.80" y="99.90" width="19.40" height="8.60" rx="4.00" fill="#000" fill-opacity="1.0"/><rect x="365.20" y="104.10" width="17.30" height="4.00" rx="2.00" fill="#000" fill-opacity="0.6"/><rect x="340.50" y="117.10" width="2.30" height="6.60" rx="1.00" fill="#000" fill-opacity="0.9"/><rect x="340.50" y="120.75" width="17.70" height="2.90" rx="1.45" fill="#000" fill-opacity="0.9"/><rect x="365.20" y="120.25" width="16.70" height="4.50" rx="2.25" fill="#000" fill-opacity="0.95"/><rect x="365.00" y="119.00" width="3.20" height="7.00" rx="1.50" fill="#000" fill-opacity="0.95"/><path d="M338.80 141.40 L341.00 137.50 L344.20 135.70 L352.80 135.70 L355.00 138.00 L356.60 143.00" fill="none" stroke="#000" stroke-opacity="0.85" stroke-width="3.8" stroke-linecap="round" stroke-linejoin="round"/><path d="M344.00 144.50 L350.00 142.80 L356.00 144.20" fill="none" stroke="#000" stroke-opacity="0.3" stroke-width="1.8" stroke-linecap="round" stroke-linejoin="round"/><path d="M364.70 143.00 L366.50 139.50 L368.50 137.30 L379.20 137.30 L381.50 139.50 L383.00 142.50" fill="none" stroke="#000" stroke-opacity="0.85" stroke-width="3.8" stroke-linecap="round" stroke-linejoin="round"/><rect x="340.50" y="156.15" width="16.70" height="3.50" rx="1.75" fill="#000" fill-opacity="0.5"/><rect x="365.80" y="155.60" width="17.70" height="4.00" rx="2.00" fill="#000" fill-opacity="0.75"/><rect x="340.50" y="172.70" width="15.60" height="6.20" rx="3.10" fill="#000" fill-opacity="1.0"/><rect x="341.00" y="170.00" width="9.00" height="3.00" rx="1.50" fill="#000" fill-opacity="0.12"/><rect x="366.30" y="174.00" width="12.90" height="2.00" rx="1.00" fill="#000" fill-opacity="0.15"/><rect x="341.00" y="188.05" width="15.10" height="4.70" rx="2.35" fill="#000" fill-opacity="0.85"/><rect x="365.80" y="187.50" width="15.60" height="5.00" rx="2.50" fill="#000" fill-opacity="0.95"/><rect x="366.00" y="197.70" width="15.00" height="2.20" rx="1.10" fill="#000" fill-opacity="0.25"/><rect x="342.00" y="197.80" width="14.00" height="2.00" rx="1.00" fill="#000" fill-opacity="0.1"/><rect x="337.10" y="209.20" width="23.10" height="7.60" rx="3.80" fill="#000" fill-opacity="0.88"/><rect x="361.30" y="209.10" width="24.10" height="7.80" rx="3.90" fill="#000" fill-opacity="0.88"/><rect x="341.30" y="227.20" width="15.80" height="4.00" rx="2.00" fill="#000" fill-opacity="0.9"/><rect x="365.00" y="227.40" width="16.20" height="4.20" rx="2.10" fill="#000" fill-opacity="0.9"/><rect x="340.30" y="248.50" width="18.90" height="4.00" rx="2.00" fill="#000" fill-opacity="1.0"/><rect x="340.30" y="254.80" width="18.90" height="5.00" rx="2.50" fill="#000" fill-opacity="1.0"/><rect x="368.60" y="249.75" width="12.60" height="2.70" rx="1.35" fill="#000" fill-opacity="0.9"/><rect x="368.60" y="256.10" width="12.60" height="3.20" rx="1.60" fill="#000" fill-opacity="0.9"/><rect x="339.00" y="268.55" width="22.00" height="3.50" rx="1.75" fill="#000" fill-opacity="0.88"/><rect x="339.00" y="273.55" width="22.00" height="3.70" rx="1.85" fill="#000" fill-opacity="0.92"/><rect x="366.00" y="268.15" width="18.00" height="3.30" rx="1.65" fill="#000" fill-opacity="0.85"/><rect x="366.00" y="273.35" width="18.00" height="3.70" rx="1.85" fill="#000" fill-opacity="0.95"/><rect x="365.70" y="289.05" width="13.70" height="2.50" rx="1.25" fill="#000" fill-opacity="0.45"/><rect x="337.00" y="303.90" width="25.00" height="8.00" rx="4.00" fill="#000" fill-opacity="0.95"/><rect x="362.00" y="304.10" width="24.00" height="7.20" rx="3.60" fill="#000" fill-opacity="0.95"/><rect x="395.10" y="49.70" width="14.50" height="2.40" rx="1.20" fill="#000" fill-opacity="0.35"/><rect x="394.50" y="66.40" width="15.70" height="4.00" rx="2.00" fill="#000" fill-opacity="0.65"/><rect x="396.00" y="70.00" width="13.00" height="3.00" rx="1.50" fill="#000" fill-opacity="0.18"/><rect x="419.80" y="67.95" width="12.40" height="2.70" rx="1.35" fill="#000" fill-opacity="0.55"/><circle cx="434.2" cy="67.1" r="1.4" fill="#000"/><rect x="392.90" y="83.70" width="17.30" height="5.00" rx="2.50" fill="#000" fill-opacity="1.0"/><rect x="419.30" y="83.70" width="17.20" height="5.00" rx="2.50" fill="#000" fill-opacity="1.0"/><rect x="395.10" y="101.95" width="16.10" height="4.50" rx="2.25" fill="#000" fill-opacity="1.0"/><rect x="422.50" y="104.10" width="9.70" height="3.40" rx="1.70" fill="#000" fill-opacity="0.4"/><rect x="392.40" y="118.15" width="2.70" height="10.30" rx="1.20" fill="#000" fill-opacity="0.85"/><rect x="392.00" y="120.80" width="18.70" height="2.40" rx="1.20" fill="#000" fill-opacity="0.85"/><rect x="408.00" y="120.10" width="3.00" height="3.80" rx="1.90" fill="#000" fill-opacity="0.85"/><rect x="418.20" y="119.85" width="17.80" height="3.30" rx="1.65" fill="#000" fill-opacity="0.85"/><rect x="418.20" y="119.10" width="3.30" height="4.80" rx="1.50" fill="#000" fill-opacity="0.9"/><rect x="432.00" y="118.80" width="4.00" height="5.00" rx="2.00" fill="#000" fill-opacity="0.9"/><path d="M392.90 143.50 L394.00 138.00 L396.50 135.80 L406.50 136.20 L408.50 139.00 L409.60 144.10" fill="none" stroke="#000" stroke-opacity="0.8" stroke-width="2.2" stroke-linecap="round" stroke-linejoin="round"/><path d="M396.00 137.00 L406.50 137.40" fill="none" stroke="#000" stroke-opacity="0.85" stroke-width="4.2" stroke-linecap="round" stroke-linejoin="round"/><path d="M417.20 144.00 L418.30 139.00 L421.00 136.20 L432.00 136.20 L434.80 139.00 L436.00 144.00" fill="none" stroke="#000" stroke-opacity="0.8" stroke-width="2.2" stroke-linecap="round" stroke-linejoin="round"/><path d="M421.00 137.40 L432.00 137.40" fill="none" stroke="#000" stroke-opacity="0.85" stroke-width="4.2" stroke-linecap="round" stroke-linejoin="round"/><rect x="392.40" y="155.15" width="17.80" height="4.50" rx="2.25" fill="#000" fill-opacity="0.8"/><rect x="416.60" y="155.15" width="19.90" height="4.50" rx="2.25" fill="#000" fill-opacity="0.85"/><path d="M393.5 181 Q393 174 397 172.6 L409.6 173 L409.6 178.5 Q400 178 397 181.5 Z" fill="#000" fill-opacity="0.75"/><rect x="394.00" y="186.85" width="14.50" height="6.10" rx="3.05" fill="#000" fill-opacity="1.0"/><rect x="418.80" y="187.35" width="15.60" height="6.10" rx="3.05" fill="#000" fill-opacity="1.0"/><rect x="391.70" y="209.35" width="23.00" height="6.50" rx="3.25" fill="#000" fill-opacity="1.0"/><rect x="417.40" y="208.30" width="20.40" height="7.00" rx="3.50" fill="#000" fill-opacity="1.0"/><rect x="417.80" y="207.00" width="4.70" height="4.00" rx="1.50" fill="#000" fill-opacity="1.0"/><rect x="393.70" y="227.20" width="16.80" height="4.80" rx="2.40" fill="#000" fill-opacity="0.9"/><rect x="417.90" y="228.05" width="16.30" height="3.70" rx="1.85" fill="#000" fill-opacity="0.85"/><rect x="393.70" y="253.20" width="12.60" height="4.40" rx="2.20" fill="#000" fill-opacity="0.85"/><rect x="393.50" y="247.50" width="6.50" height="3.00" rx="1.50" fill="#000" fill-opacity="0.25"/><rect x="420.00" y="255.00" width="12.00" height="2.00" rx="1.00" fill="#000" fill-opacity="0.06"/><rect x="391.20" y="269.85" width="19.10" height="3.30" rx="1.65" fill="#000" fill-opacity="0.7"/><rect x="391.20" y="272.30" width="19.10" height="3.80" rx="1.90" fill="#000" fill-opacity="0.92"/><rect x="414.50" y="269.85" width="21.20" height="3.30" rx="1.65" fill="#000" fill-opacity="0.7"/><rect x="414.50" y="272.30" width="21.20" height="3.80" rx="1.90" fill="#000" fill-opacity="0.92"/><rect x="421.90" y="289.50" width="12.70" height="3.00" rx="1.50" fill="#000" fill-opacity="0.4"/><rect x="392.30" y="305.30" width="20.10" height="7.60" rx="3.80" fill="#000" fill-opacity="0.95"/><rect x="416.60" y="303.50" width="20.10" height="7.40" rx="3.70" fill="#000" fill-opacity="0.95"/><path d="M446.9 51.2 Q446.9 49 449 49.1 L464.2 50.3 L464.2 52.1 L449 53.3 Q446.9 53.4 446.9 51.2 Z" fill="#000" fill-opacity="0.92"/><rect x="473.30" y="49.70" width="15.10" height="1.80" rx="0.90" fill="#000" fill-opacity="0.2"/><path d="M448.50 69.60 L452.00 70.00 L454.00 72.00 L456.00 70.00 L464.20 69.50" fill="none" stroke="#000" stroke-opacity="0.7" stroke-width="2.6" stroke-linecap="round" stroke-linejoin="round"/><path d="M473.80 67.60 L481.00 65.80 L488.90 63.80" fill="none" stroke="#000" stroke-opacity="0.75" stroke-width="3.0" stroke-linecap="round" stroke-linejoin="round"/><rect x="447.50" y="85.30" width="19.30" height="4.00" rx="2.00" fill="#000" fill-opacity="1.0"/><rect x="471.20" y="85.30" width="18.80" height="4.00" rx="2.00" fill="#000" fill-opacity="1.0"/><rect x="447.50" y="103.05" width="20.40" height="4.50" rx="2.25" fill="#000" fill-opacity="1.0"/><rect x="472.20" y="101.95" width="19.40" height="4.50" rx="2.25" fill="#000" fill-opacity="1.0"/><rect x="449.10" y="121.35" width="16.10" height="2.30" rx="1.15" fill="#000" fill-opacity="0.9"/><rect x="464.30" y="118.30" width="1.50" height="5.40" rx="0.70" fill="#000" fill-opacity="0.9"/><rect x="471.70" y="120.80" width="17.80" height="3.40" rx="1.70" fill="#000" fill-opacity="0.95"/><rect x="485.00" y="119.90" width="4.50" height="5.20" rx="2.00" fill="#000" fill-opacity="0.95"/><rect x="487.50" y="125.00" width="2.30" height="2.00" rx="1.00" fill="#000" fill-opacity="0.7"/><path d="M446.90 144.10 L448.00 139.00 L450.70 135.80 L460.90 136.20 L463.50 139.00 L464.70 143.50" fill="none" stroke="#000" stroke-opacity="0.8" stroke-width="2.2" stroke-linecap="round" stroke-linejoin="round"/><path d="M450.70 137.20 L460.90 137.60" fill="none" stroke="#000" stroke-opacity="0.85" stroke-width="4.2" stroke-linecap="round" stroke-linejoin="round"/><path d="M471.70 144.10 L474.50 138.00 L478.20 135.00 L484.00 137.50 L488.00 140.00 L490.00 142.50" fill="none" stroke="#000" stroke-opacity="0.85" stroke-width="4.0" stroke-linecap="round" stroke-linejoin="round"/><rect x="447.50" y="154.50" width="17.70" height="5.00" rx="2.50" fill="#000" fill-opacity="0.85"/><rect x="472.20" y="155.60" width="17.30" height="3.40" rx="1.70" fill="#000" fill-opacity="0.75"/><rect x="449.10" y="171.30" width="3.90" height="7.00" rx="1.80" fill="#000" fill-opacity="0.95"/><rect x="449.10" y="174.05" width="17.70" height="2.70" rx="1.35" fill="#000" fill-opacity="0.9"/><rect x="472.80" y="172.50" width="3.20" height="5.00" rx="1.50" fill="#000" fill-opacity="0.85"/><rect x="472.80" y="174.00" width="16.70" height="3.00" rx="1.50" fill="#000" fill-opacity="0.85"/><rect x="448.50" y="187.40" width="15.70" height="7.20" rx="3.60" fill="#000" fill-opacity="1.0"/><rect x="449.00" y="198.15" width="13.00" height="2.30" rx="1.15" fill="#000" fill-opacity="0.6"/><rect x="472.80" y="187.40" width="16.10" height="7.20" rx="3.60" fill="#000" fill-opacity="1.0"/><rect x="474.00" y="198.15" width="14.00" height="2.30" rx="1.15" fill="#000" fill-opacity="0.7"/><rect x="446.30" y="209.60" width="22.20" height="7.20" rx="3.60" fill="#000" fill-opacity="1.0"/><rect x="470.60" y="209.60" width="20.10" height="7.20" rx="3.60" fill="#000" fill-opacity="1.0"/><rect x="449.50" y="228.30" width="17.90" height="4.60" rx="2.30" fill="#000" fill-opacity="0.9"/><rect x="474.90" y="228.30" width="14.80" height="4.60" rx="2.30" fill="#000" fill-opacity="0.9"/><rect x="447.30" y="249.35" width="20.10" height="4.50" rx="2.25" fill="#000" fill-opacity="1.0"/><rect x="447.30" y="254.85" width="20.10" height="5.30" rx="2.65" fill="#000" fill-opacity="1.0"/><rect x="474.80" y="249.75" width="15.90" height="3.70" rx="1.85" fill="#000" fill-opacity="1.0"/><rect x="474.80" y="255.10" width="15.90" height="4.80" rx="2.40" fill="#000" fill-opacity="1.0"/><rect x="447.30" y="268.50" width="20.10" height="3.80" rx="1.90" fill="#000" fill-opacity="0.95"/><rect x="447.30" y="273.80" width="20.10" height="4.00" rx="2.00" fill="#000" fill-opacity="0.95"/><rect x="471.60" y="268.50" width="19.10" height="3.80" rx="1.90" fill="#000" fill-opacity="0.95"/><rect x="471.60" y="273.80" width="19.10" height="4.00" rx="2.00" fill="#000" fill-opacity="0.95"/><rect x="448.40" y="288.70" width="11.60" height="2.00" rx="1.00" fill="#000" fill-opacity="0.15"/><rect x="474.80" y="288.20" width="15.90" height="3.00" rx="1.50" fill="#000" fill-opacity="0.8"/><rect x="446.20" y="304.50" width="21.20" height="7.40" rx="3.70" fill="#000" fill-opacity="0.97"/><rect x="469.50" y="302.40" width="22.20" height="7.40" rx="3.70" fill="#000" fill-opacity="0.97"/></g>
<rect x="282.00" y="59.50" width="50.80" height="18.10" fill="none" stroke="#111" stroke-width="1.6"/>
<rect x="282.00" y="77.60" width="50.80" height="18.10" fill="none" stroke="#111" stroke-width="1.6"/>
<rect x="282.00" y="112.90" width="50.80" height="17.60" fill="none" stroke="#111" stroke-width="1.6"/>
<rect x="282.00" y="130.50" width="50.80" height="17.40" fill="none" stroke="#111" stroke-width="1.6"/>
<rect x="282.00" y="184.00" width="50.80" height="19.20" fill="none" stroke="#111" stroke-width="1.6"/>
<rect x="282.00" y="203.20" width="50.80" height="18.30" fill="none" stroke="#111" stroke-width="1.6"/>
<rect x="282.00" y="221.50" width="50.80" height="17.70" fill="none" stroke="#111" stroke-width="1.6"/>
<rect x="282.00" y="264.00" width="50.80" height="17.60" fill="none" stroke="#111" stroke-width="1.6"/>
<rect x="282.00" y="281.60" width="50.80" height="17.80" fill="none" stroke="#111" stroke-width="1.6"/>
<rect x="282.00" y="299.40" width="50.80" height="17.90" fill="none" stroke="#111" stroke-width="1.6"/>
<rect x="282.00" y="40.50" width="50.80" height="19.00" fill="none" stroke="#80133a" stroke-width="1.8"/>
<rect x="282.00" y="95.70" width="50.80" height="17.20" fill="none" stroke="#80133a" stroke-width="1.8"/>
<rect x="282.00" y="147.90" width="50.80" height="18.10" fill="none" stroke="#80133a" stroke-width="1.8"/>
<rect x="282.00" y="166.00" width="50.80" height="18.00" fill="none" stroke="#80133a" stroke-width="1.8"/>
<rect x="282.00" y="246.20" width="50.80" height="17.80" fill="none" stroke="#80133a" stroke-width="1.8"/>
<rect x="335.80" y="59.50" width="50.80" height="18.10" fill="none" stroke="#111" stroke-width="1.6"/>
<rect x="335.80" y="77.60" width="50.80" height="18.10" fill="none" stroke="#111" stroke-width="1.6"/>
<rect x="335.80" y="112.90" width="50.80" height="17.60" fill="none" stroke="#111" stroke-width="1.6"/>
<rect x="335.80" y="130.50" width="50.80" height="17.40" fill="none" stroke="#111" stroke-width="1.6"/>
<rect x="335.80" y="147.90" width="50.80" height="18.10" fill="none" stroke="#111" stroke-width="1.6"/>
<rect x="335.80" y="184.00" width="50.80" height="19.20" fill="none" stroke="#111" stroke-width="1.6"/>
<rect x="335.80" y="203.20" width="50.80" height="18.30" fill="none" stroke="#111" stroke-width="1.6"/>
<rect x="335.80" y="221.50" width="50.80" height="17.70" fill="none" stroke="#111" stroke-width="1.6"/>
<rect x="335.80" y="264.00" width="50.80" height="17.60" fill="none" stroke="#111" stroke-width="1.6"/>
<rect x="335.80" y="281.60" width="50.80" height="17.80" fill="none" stroke="#111" stroke-width="1.6"/>
<rect x="335.80" y="299.40" width="50.80" height="17.90" fill="none" stroke="#111" stroke-width="1.6"/>
<rect x="335.80" y="40.50" width="50.80" height="19.00" fill="none" stroke="#80133a" stroke-width="1.8"/>
<rect x="335.80" y="95.70" width="50.80" height="17.20" fill="none" stroke="#80133a" stroke-width="1.8"/>
<rect x="335.80" y="166.00" width="50.80" height="18.00" fill="none" stroke="#80133a" stroke-width="1.8"/>
<rect x="335.80" y="246.20" width="50.80" height="17.80" fill="none" stroke="#80133a" stroke-width="1.8"/>
<rect x="389.20" y="59.50" width="50.80" height="18.10" fill="none" stroke="#111" stroke-width="1.6"/>
<rect x="389.20" y="77.60" width="50.80" height="18.10" fill="none" stroke="#111" stroke-width="1.6"/>
<rect x="389.20" y="112.90" width="50.80" height="17.60" fill="none" stroke="#111" stroke-width="1.6"/>
<rect x="389.20" y="130.50" width="50.80" height="17.40" fill="none" stroke="#111" stroke-width="1.6"/>
<rect x="389.20" y="147.90" width="50.80" height="18.10" fill="none" stroke="#111" stroke-width="1.6"/>
<rect x="389.20" y="184.00" width="50.80" height="19.20" fill="none" stroke="#111" stroke-width="1.6"/>
<rect x="389.20" y="203.20" width="50.80" height="18.30" fill="none" stroke="#111" stroke-width="1.6"/>
<rect x="389.20" y="221.50" width="50.80" height="17.70" fill="none" stroke="#111" stroke-width="1.6"/>
<rect x="389.20" y="264.00" width="50.80" height="17.60" fill="none" stroke="#111" stroke-width="1.6"/>
<rect x="389.20" y="281.60" width="50.80" height="17.80" fill="none" stroke="#111" stroke-width="1.6"/>
<rect x="389.20" y="299.40" width="50.80" height="17.90" fill="none" stroke="#111" stroke-width="1.6"/>
<rect x="389.20" y="40.50" width="50.80" height="19.00" fill="none" stroke="#80133a" stroke-width="1.8"/>
<rect x="389.20" y="95.70" width="50.80" height="17.20" fill="none" stroke="#80133a" stroke-width="1.8"/>
<rect x="389.20" y="166.00" width="50.80" height="18.00" fill="none" stroke="#80133a" stroke-width="1.8"/>
<rect x="389.20" y="246.20" width="50.80" height="17.80" fill="none" stroke="#80133a" stroke-width="1.8"/>
<rect x="443.20" y="59.50" width="50.80" height="18.10" fill="none" stroke="#111" stroke-width="1.6"/>
<rect x="443.20" y="77.60" width="50.80" height="18.10" fill="none" stroke="#111" stroke-width="1.6"/>
<rect x="443.20" y="95.70" width="50.80" height="17.20" fill="none" stroke="#111" stroke-width="1.6"/>
<rect x="443.20" y="112.90" width="50.80" height="17.60" fill="none" stroke="#111" stroke-width="1.6"/>
<rect x="443.20" y="130.50" width="50.80" height="17.40" fill="none" stroke="#111" stroke-width="1.6"/>
<rect x="443.20" y="147.90" width="50.80" height="18.10" fill="none" stroke="#111" stroke-width="1.6"/>
<rect x="443.20" y="166.00" width="50.80" height="18.00" fill="none" stroke="#111" stroke-width="1.6"/>
<rect x="443.20" y="184.00" width="50.80" height="19.20" fill="none" stroke="#111" stroke-width="1.6"/>
<rect x="443.20" y="203.20" width="50.80" height="18.30" fill="none" stroke="#111" stroke-width="1.6"/>
<rect x="443.20" y="221.50" width="50.80" height="17.70" fill="none" stroke="#111" stroke-width="1.6"/>
<rect x="443.20" y="264.00" width="50.80" height="17.60" fill="none" stroke="#111" stroke-width="1.6"/>
<rect x="443.20" y="281.60" width="50.80" height="17.80" fill="none" stroke="#111" stroke-width="1.6"/>
<rect x="443.20" y="299.40" width="50.80" height="17.90" fill="none" stroke="#111" stroke-width="1.6"/>
<rect x="443.20" y="40.50" width="50.80" height="19.00" fill="none" stroke="#80133a" stroke-width="1.8"/>
<rect x="443.20" y="246.20" width="50.80" height="17.80" fill="none" stroke="#80133a" stroke-width="1.8"/>
<text x="7.90" y="354.90" font-size="11.5" text-anchor="start" font-weight="bold" fill="#111" >C</text>
<text x="0" y="0" font-size="8.6" text-anchor="middle" font-weight="normal" fill="#2a2a2a" transform="translate(84.20 370.00) scale(0.95 1)" >JAK2(V617F)</text>
<text x="0" y="0" font-size="8.7" text-anchor="end" font-weight="normal" fill="#2a2a2a" transform="translate(50.70 382.30) scale(0.93 1)" >Ruxo</text>
<text x="70.20" y="381.70" font-size="8" text-anchor="middle" font-weight="normal" fill="#2a2a2a" >-</text>
<text x="96.50" y="382.20" font-size="8" text-anchor="middle" font-weight="normal" fill="#2a2a2a" >+</text>
<rect x="54.20" y="386.50" width="59.60" height="18.50" fill="#eeeeee" />
<text x="0" y="0" font-size="8.8" text-anchor="end" font-weight="normal" fill="#2a2a2a" transform="translate(50.10 399.15) scale(0.92 1)" >RAD51</text>
<rect x="54.20" y="405.00" width="59.60" height="18.00" fill="#ececec" />
<text x="0" y="0" font-size="8.8" text-anchor="end" font-weight="normal" fill="#2a2a2a" transform="translate(50.10 417.40) scale(0.92 1)" >LIG4</text>
<rect x="54.20" y="423.00" width="59.60" height="18.50" fill="#ebebeb" />
<text x="0" y="0" font-size="8.8" text-anchor="end" font-weight="normal" fill="#2a2a2a" transform="translate(50.10 435.65) scale(0.92 1)" >pSTAT5</text>
<rect x="54.20" y="441.50" width="59.60" height="18.00" fill="#e8e8e8" />
<text x="0" y="0" font-size="8.8" text-anchor="end" font-weight="normal" fill="#2a2a2a" transform="translate(50.10 453.90) scale(0.92 1)" >Actin</text>
<g filter="url(#bl)"><path d="M58.2 395 Q58.5 391.8 62 391.2 L72 390.9 Q77 391 79.5 393.5 Q81.2 396 80.3 398.2 Q79 399.4 77 397.6 Q74.5 396 71 395.8 L64 396.3 Q59 397.6 58.2 395 Z" fill="#000"/><rect x="88.90" y="394.20" width="10.50" height="3.00" rx="1.50" fill="#000" fill-opacity="0.5"/><path d="M98.00 396.00 L103.00 398.00 L109.20 401.20" fill="none" stroke="#000" stroke-opacity="0.45" stroke-width="1.3" stroke-linecap="round" stroke-linejoin="round"/><path d="M60.30 413.20 L63.50 413.40 L66.00 415.50 L67.60 416.30 L69.50 415.80 L72.50 413.60 L77.80 413.30" fill="none" stroke="#000" stroke-opacity="0.95" stroke-width="4.8" stroke-linecap="round" stroke-linejoin="round"/><rect x="88.90" y="411.80" width="20.30" height="3.00" rx="1.50" fill="#000" fill-opacity="0.25"/><path d="M60 431.5 Q60 427.8 64 427.8 L68 428 Q70 429.8 74 430 Q77.8 430.2 77.8 433 L77.8 434.5 Q77.8 436.5 74 436.5 L64 436.5 Q60 436.5 60 433 Z" fill="#000" fill-opacity="0.97"/><rect x="87.70" y="432.10" width="12.30" height="2.60" rx="1.30" fill="#000" fill-opacity="0.8"/><rect x="97.00" y="432.00" width="11.60" height="4.80" rx="2.40" fill="#000" fill-opacity="0.85"/><rect x="59.40" y="447.40" width="19.70" height="5.80" rx="2.90" fill="#000" fill-opacity="0.93"/><rect x="85.80" y="448.10" width="21.00" height="6.20" rx="3.10" fill="#000" fill-opacity="0.95"/></g>
<rect x="54.2" y="423.00" width="59.6" height="18.50" fill="none" stroke="#111" stroke-width="1.6"/>
<rect x="54.2" y="441.50" width="59.6" height="18.00" fill="none" stroke="#111" stroke-width="1.6"/>
<rect x="54.2" y="386.50" width="59.6" height="18.50" fill="none" stroke="#80133a" stroke-width="1.8"/>
<rect x="54.2" y="405.00" width="59.6" height="18.00" fill="none" stroke="#80133a" stroke-width="1.8"/>
<rect x="53.90" y="464.60" width="60.20" height="69.10" fill="#0e0e0e" />
<rect x="56.00" y="466.00" width="26.00" height="66.00" fill="#151515" />
<g filter="url(#bl2)"><rect x="57" y="477.95" width="23.00" height="1.5" rx="0.75" fill="#5e5e5e"/><rect x="57" y="484.35" width="23.00" height="1.9" rx="0.95" fill="#a8a8a8"/><rect x="86" y="484.75" width="23.50" height="1.5" rx="0.75" fill="#2c2c2c"/><rect x="56.5" y="495.35" width="23.60" height="2.7" rx="1.35" fill="#ffffff"/><rect x="86" y="495.80" width="23.50" height="3.0" rx="1.50" fill="#f0f0f0"/><rect x="57.2" y="521.50" width="24.80" height="7.8" rx="3.50" fill="#ffffff"/><rect x="85.3" y="521.60" width="26.20" height="9.0" rx="3.50" fill="#fafafa"/></g>
<text x="28.40" y="489.90" font-size="8.9" text-anchor="start" font-weight="normal" fill="#2a2a2a" >P</text>
<text x="29.00" y="530.20" font-size="8.9" text-anchor="start" font-weight="normal" fill="#2a2a2a" >S</text>
<g transform="translate(37.9 487.4) rotate(-30.7)"><line x1="0" y1="0" x2="11.69" y2="0" stroke="#111" stroke-width="1.4"/><path d="M15.69 0 l-6 -2.9 l1.2 2.9 l-1.2 2.9 z" fill="#111"/></g>
<g transform="translate(37.9 487.4) rotate(0.0)"><line x1="0" y1="0" x2="9.10" y2="0" stroke="#111" stroke-width="1.4"/><path d="M13.10 0 l-6 -2.9 l1.2 2.9 l-1.2 2.9 z" fill="#111"/></g>
<g transform="translate(37.9 487.4) rotate(32.4)"><line x1="0" y1="0" x2="11.29" y2="0" stroke="#111" stroke-width="1.4"/><path d="M15.29 0 l-6 -2.9 l1.2 2.9 l-1.2 2.9 z" fill="#111"/></g>
<line x1="37.90" y1="526.50" x2="46.00" y2="526.50" stroke="#111" stroke-width="1.8" />
<path d="M51 526.5 l-6.6 -3.0 l1.2 3.0 l-1.2 3.0 z" fill="#111"/>
<text x="68.30" y="544.50" font-size="7.9" text-anchor="middle" font-weight="normal" fill="#2a2a2a" >28+/-7</text>
<text x="101.50" y="544.50" font-size="7.9" text-anchor="middle" font-weight="normal" fill="#2a2a2a" >9+/-3*</text>
<rect x="53.30" y="552.60" width="61.40" height="79.10" fill="#fbfbfb" stroke="#2a2a2a" stroke-width="1.3"/>
<line x1="84.40" y1="552.60" x2="84.40" y2="631.70" stroke="#555" stroke-width="1.0" />
<g filter="url(#bl3)"><path d="M62 553.5 L76.5 553.5 Q77.5 562 74.5 568 Q71.5 573.5 69 573.5 Q66 573 63.5 567.5 Q61 562 62 553.5 Z" fill="#2c2c2c" fill-opacity="0.92"/><path d="M89 553.5 L111.2 553.5 Q112 561 107 567 Q103 572 99.5 572 Q95 571 91.5 566 Q88 561 89 553.5 Z" fill="#2c2c2c" fill-opacity="0.92"/></g>
<g><rect x="73.1" y="564.5" width="0.7" height="0.7" fill="#333" fill-opacity="0.6"/><rect x="76.1" y="556.8" width="0.7" height="0.7" fill="#333" fill-opacity="0.6"/><rect x="68.5" y="569.9" width="0.7" height="0.7" fill="#333" fill-opacity="0.6"/><rect x="70.2" y="569.2" width="0.7" height="0.7" fill="#333" fill-opacity="0.6"/><rect x="67.2" y="555.5" width="0.7" height="0.7" fill="#333" fill-opacity="0.6"/><rect x="70.2" y="557.5" width="0.7" height="0.7" fill="#333" fill-opacity="0.6"/><rect x="70.2" y="567.1" width="0.7" height="0.7" fill="#333" fill-opacity="0.6"/><rect x="67.1" y="561.6" width="0.7" height="0.7" fill="#333" fill-opacity="0.6"/><rect x="73.1" y="572.1" width="0.7" height="0.7" fill="#333" fill-opacity="0.6"/><rect x="67.6" y="566.4" width="0.7" height="0.7" fill="#333" fill-opacity="0.6"/><rect x="72.5" y="580.0" width="0.7" height="0.7" fill="#333" fill-opacity="0.6"/><rect x="71.9" y="563.5" width="0.7" height="0.7" fill="#333" fill-opacity="0.6"/><rect x="72.7" y="559.2" width="0.7" height="0.7" fill="#333" fill-opacity="0.6"/><rect x="70.6" y="576.4" width="0.7" height="0.7" fill="#333" fill-opacity="0.6"/><rect x="62.9" y="560.4" width="0.7" height="0.7" fill="#333" fill-opacity="0.6"/><rect x="66.4" y="565.8" width="0.7" height="0.7" fill="#333" fill-opacity="0.6"/><rect x="70.4" y="570.2" width="0.7" height="0.7" fill="#333" fill-opacity="0.6"/><rect x="70.0" y="561.1" width="0.7" height="0.7" fill="#333" fill-opacity="0.6"/><rect x="67.1" y="573.3" width="0.7" height="0.7" fill="#333" fill-opacity="0.6"/><rect x="70.5" y="571.1" width="0.7" height="0.7" fill="#333" fill-opacity="0.6"/><rect x="67.2" y="567.8" width="0.7" height="0.7" fill="#333" fill-opacity="0.6"/><rect x="74.0" y="573.8" width="0.7" height="0.7" fill="#333" fill-opacity="0.6"/><rect x="64.0" y="562.2" width="0.7" height="0.7" fill="#333" fill-opacity="0.6"/><rect x="68.2" y="577.8" width="0.7" height="0.7" fill="#333" fill-opacity="0.6"/><rect x="67.5" y="574.5" width="0.7" height="0.7" fill="#333" fill-opacity="0.6"/><rect x="69.4" y="566.9" width="0.7" height="0.7" fill="#333" fill-opacity="0.6"/><rect x="67.2" y="568.7" width="0.7" height="0.7" fill="#333" fill-opacity="0.6"/><rect x="64.3" y="555.5" width="0.7" height="0.7" fill="#333" fill-opacity="0.6"/><rect x="64.4" y="570.8" width="0.7" height="0.7" fill="#333" fill-opacity="0.6"/><rect x="68.1" y="577.8" width="0.7" height="0.7" fill="#333" fill-opacity="0.6"/><rect x="73.9" y="571.3" width="0.7" height="0.7" fill="#333" fill-opacity="0.6"/><rect x="63.3" y="571.0" width="0.7" height="0.7" fill="#333" fill-opacity="0.6"/><rect x="70.2" y="579.3" width="0.7" height="0.7" fill="#333" fill-opacity="0.6"/><rect x="68.6" y="568.4" width="0.7" height="0.7" fill="#333" fill-opacity="0.6"/><rect x="68.5" y="573.8" width="0.7" height="0.7" fill="#333" fill-opacity="0.6"/><rect x="74.9" y="572.6" width="0.7" height="0.7" fill="#333" fill-opacity="0.6"/><rect x="68.9" y="563.4" width="0.7" height="0.7" fill="#333" fill-opacity="0.6"/><rect x="68.9" y="566.1" width="0.7" height="0.7" fill="#333" fill-opacity="0.6"/><rect x="68.6" y="568.0" width="0.7" height="0.7" fill="#333" fill-opacity="0.6"/><rect x="70.7" y="560.0" width="0.7" height="0.7" fill="#333" fill-opacity="0.6"/><rect x="69.9" y="575.4" width="0.7" height="0.7" fill="#333" fill-opacity="0.6"/><rect x="69.4" y="558.8" width="0.7" height="0.7" fill="#333" fill-opacity="0.6"/><rect x="71.4" y="577.7" width="0.7" height="0.7" fill="#333" fill-opacity="0.6"/><rect x="62.4" y="557.1" width="0.7" height="0.7" fill="#333" fill-opacity="0.6"/><rect x="70.1" y="578.0" width="0.7" height="0.7" fill="#333" fill-opacity="0.6"/><rect x="70.5" y="576.5" width="0.7" height="0.7" fill="#333" fill-opacity="0.6"/><rect x="66.9" y="566.9" width="0.7" height="0.7" fill="#333" fill-opacity="0.6"/><rect x="77.3" y="565.4" width="0.7" height="0.7" fill="#333" fill-opacity="0.6"/><rect x="60.4" y="559.4" width="0.7" height="0.7" fill="#333" fill-opacity="0.6"/><rect x="69.7" y="560.2" width="0.7" height="0.7" fill="#333" fill-opacity="0.6"/><rect x="72.0" y="568.6" width="0.7" height="0.7" fill="#333" fill-opacity="0.6"/><rect x="69.3" y="571.2" width="0.7" height="0.7" fill="#333" fill-opacity="0.6"/><rect x="69.7" y="567.0" width="0.7" height="0.7" fill="#333" fill-opacity="0.6"/><rect x="59.8" y="565.7" width="0.7" height="0.7" fill="#333" fill-opacity="0.6"/><rect x="66.5" y="573.6" width="0.7" height="0.7" fill="#333" fill-opacity="0.6"/><rect x="65.3" y="569.4" width="0.7" height="0.7" fill="#333" fill-opacity="0.6"/><rect x="63.3" y="556.1" width="0.7" height="0.7" fill="#333" fill-opacity="0.6"/><rect x="70.1" y="578.3" width="0.7" height="0.7" fill="#333" fill-opacity="0.6"/><rect x="64.5" y="576.0" width="0.7" height="0.7" fill="#333" fill-opacity="0.6"/><rect x="67.8" y="566.3" width="0.7" height="0.7" fill="#333" fill-opacity="0.6"/><rect x="70.1" y="572.3" width="0.7" height="0.7" fill="#333" fill-opacity="0.6"/><rect x="73.0" y="556.4" width="0.7" height="0.7" fill="#333" fill-opacity="0.6"/><rect x="70.8" y="559.8" width="0.7" height="0.7" fill="#333" fill-opacity="0.6"/><rect x="69.4" y="564.9" width="0.7" height="0.7" fill="#333" fill-opacity="0.6"/><rect x="69.3" y="559.5" width="0.7" height="0.7" fill="#333" fill-opacity="0.6"/><rect x="68.5" y="557.8" width="0.7" height="0.7" fill="#333" fill-opacity="0.6"/><rect x="69.7" y="577.7" width="0.7" height="0.7" fill="#333" fill-opacity="0.6"/><rect x="70.7" y="571.8" width="0.7" height="0.7" fill="#333" fill-opacity="0.6"/><rect x="71.9" y="565.1" width="0.7" height="0.7" fill="#333" fill-opacity="0.6"/><rect x="75.2" y="565.5" width="0.7" height="0.7" fill="#333" fill-opacity="0.6"/><rect x="71.5" y="580.4" width="0.7" height="0.7" fill="#333" fill-opacity="0.6"/><rect x="67.7" y="568.2" width="0.7" height="0.7" fill="#333" fill-opacity="0.6"/><rect x="69.5" y="557.9" width="0.7" height="0.7" fill="#333" fill-opacity="0.6"/><rect x="68.5" y="565.0" width="0.7" height="0.7" fill="#333" fill-opacity="0.6"/><rect x="79.1" y="559.8" width="0.7" height="0.7" fill="#333" fill-opacity="0.6"/><rect x="76.5" y="554.8" width="0.7" height="0.7" fill="#333" fill-opacity="0.6"/><rect x="67.3" y="559.3" width="0.7" height="0.7" fill="#333" fill-opacity="0.6"/><rect x="73.5" y="570.1" width="0.7" height="0.7" fill="#333" fill-opacity="0.6"/><rect x="69.6" y="580.0" width="0.7" height="0.7" fill="#333" fill-opacity="0.6"/><rect x="68.8" y="577.5" width="0.7" height="0.7" fill="#333" fill-opacity="0.6"/><rect x="66.2" y="565.6" width="0.7" height="0.7" fill="#333" fill-opacity="0.6"/><rect x="70.2" y="560.0" width="0.7" height="0.7" fill="#333" fill-opacity="0.6"/><rect x="66.3" y="575.6" width="0.7" height="0.7" fill="#333" fill-opacity="0.6"/><rect x="70.7" y="564.6" width="0.7" height="0.7" fill="#333" fill-opacity="0.6"/><rect x="72.3" y="580.2" width="0.7" height="0.7" fill="#333" fill-opacity="0.6"/><rect x="70.7" y="577.3" width="0.7" height="0.7" fill="#333" fill-opacity="0.6"/><rect x="64.8" y="574.7" width="0.7" height="0.7" fill="#333" fill-opacity="0.6"/><rect x="64.7" y="561.7" width="0.7" height="0.7" fill="#333" fill-opacity="0.6"/><rect x="68.7" y="555.1" width="0.7" height="0.7" fill="#333" fill-opacity="0.6"/><rect x="68.4" y="555.0" width="0.7" height="0.7" fill="#333" fill-opacity="0.6"/><rect x="71.4" y="573.6" width="0.7" height="0.7" fill="#333" fill-opacity="0.6"/><rect x="65.4" y="579.6" width="0.7" height="0.7" fill="#333" fill-opacity="0.6"/><rect x="70.6" y="580.2" width="0.7" height="0.7" fill="#333" fill-opacity="0.6"/><rect x="68.5" y="579.5" width="0.7" height="0.7" fill="#333" fill-opacity="0.6"/><rect x="71.9" y="561.7" width="0.7" height="0.7" fill="#333" fill-opacity="0.6"/><rect x="71.3" y="560.9" width="0.7" height="0.7" fill="#333" fill-opacity="0.6"/><rect x="72.0" y="578.3" width="0.7" height="0.7" fill="#333" fill-opacity="0.6"/><rect x="66.1" y="577.0" width="0.7" height="0.7" fill="#333" fill-opacity="0.6"/><rect x="69.7" y="576.1" width="0.7" height="0.7" fill="#333" fill-opacity="0.6"/><rect x="62.6" y="557.2" width="0.7" height="0.7" fill="#333" fill-opacity="0.6"/><rect x="64.8" y="575.7" width="0.7" height="0.7" fill="#333" fill-opacity="0.6"/><rect x="67.7" y="575.0" width="0.7" height="0.7" fill="#333" fill-opacity="0.6"/><rect x="69.5" y="575.8" width="0.7" height="0.7" fill="#333" fill-opacity="0.6"/><rect x="73.0" y="564.7" width="0.7" height="0.7" fill="#333" fill-opacity="0.6"/><rect x="58.9" y="566.4" width="0.7" height="0.7" fill="#333" fill-opacity="0.6"/><rect x="75.5" y="566.5" width="0.7" height="0.7" fill="#333" fill-opacity="0.6"/><rect x="66.6" y="560.0" width="0.7" height="0.7" fill="#333" fill-opacity="0.6"/><rect x="76.2" y="558.7" width="0.7" height="0.7" fill="#333" fill-opacity="0.6"/><rect x="73.4" y="576.2" width="0.7" height="0.7" fill="#333" fill-opacity="0.6"/><rect x="76.2" y="559.3" width="0.7" height="0.7" fill="#333" fill-opacity="0.6"/><rect x="62.0" y="572.8" width="0.7" height="0.7" fill="#333" fill-opacity="0.6"/><rect x="67.1" y="565.2" width="0.7" height="0.7" fill="#333" fill-opacity="0.6"/><rect x="68.3" y="554.4" width="0.7" height="0.7" fill="#333" fill-opacity="0.6"/><rect x="68.1" y="579.9" width="0.7" height="0.7" fill="#333" fill-opacity="0.6"/><rect x="67.5" y="579.1" width="0.7" height="0.7" fill="#333" fill-opacity="0.6"/><rect x="74.4" y="567.3" width="0.7" height="0.7" fill="#333" fill-opacity="0.6"/><rect x="62.6" y="561.3" width="0.7" height="0.7" fill="#333" fill-opacity="0.6"/><rect x="68.4" y="562.5" width="0.7" height="0.7" fill="#333" fill-opacity="0.6"/><rect x="71.6" y="571.1" width="0.7" height="0.7" fill="#333" fill-opacity="0.6"/><rect x="67.1" y="562.7" width="0.7" height="0.7" fill="#333" fill-opacity="0.6"/><rect x="69.8" y="578.5" width="0.7" height="0.7" fill="#333" fill-opacity="0.6"/><rect x="63.8" y="565.3" width="0.7" height="0.7" fill="#333" fill-opacity="0.6"/><rect x="70.0" y="578.4" width="0.7" height="0.7" fill="#333" fill-opacity="0.6"/><rect x="73.4" y="567.0" width="0.7" height="0.7" fill="#333" fill-opacity="0.6"/><rect x="67.3" y="569.8" width="0.7" height="0.7" fill="#333" fill-opacity="0.6"/><rect x="73.1" y="569.6" width="0.7" height="0.7" fill="#333" fill-opacity="0.6"/><rect x="69.9" y="560.4" width="0.7" height="0.7" fill="#333" fill-opacity="0.6"/><rect x="70.5" y="553.8" width="0.7" height="0.7" fill="#333" fill-opacity="0.6"/><rect x="67.1" y="568.3" width="0.7" height="0.7" fill="#333" fill-opacity="0.6"/><rect x="67.1" y="574.4" width="0.7" height="0.7" fill="#333" fill-opacity="0.6"/><rect x="68.2" y="569.5" width="0.7" height="0.7" fill="#333" fill-opacity="0.6"/><rect x="69.6" y="570.4" width="0.7" height="0.7" fill="#333" fill-opacity="0.6"/><rect x="67.7" y="570.5" width="0.7" height="0.7" fill="#333" fill-opacity="0.6"/><rect x="67.9" y="562.4" width="0.7" height="0.7" fill="#333" fill-opacity="0.6"/><rect x="75.4" y="569.2" width="0.7" height="0.7" fill="#333" fill-opacity="0.6"/><rect x="69.8" y="570.5" width="0.7" height="0.7" fill="#333" fill-opacity="0.6"/><rect x="60.8" y="567.6" width="0.7" height="0.7" fill="#333" fill-opacity="0.6"/><rect x="65.5" y="571.7" width="0.7" height="0.7" fill="#333" fill-opacity="0.6"/><rect x="69.2" y="573.6" width="0.7" height="0.7" fill="#333" fill-opacity="0.6"/><rect x="65.0" y="567.8" width="0.7" height="0.7" fill="#333" fill-opacity="0.6"/><rect x="68.9" y="579.2" width="0.7" height="0.7" fill="#333" fill-opacity="0.6"/><rect x="74.0" y="573.8" width="0.7" height="0.7" fill="#333" fill-opacity="0.6"/><rect x="61.4" y="562.7" width="0.7" height="0.7" fill="#333" fill-opacity="0.6"/><rect x="75.3" y="570.5" width="0.7" height="0.7" fill="#333" fill-opacity="0.6"/><rect x="65.7" y="559.0" width="0.7" height="0.7" fill="#333" fill-opacity="0.6"/><rect x="67.3" y="558.5" width="0.7" height="0.7" fill="#333" fill-opacity="0.6"/><rect x="70.0" y="562.1" width="0.7" height="0.7" fill="#333" fill-opacity="0.6"/><rect x="64.4" y="556.8" width="0.7" height="0.7" fill="#333" fill-opacity="0.6"/><rect x="66.3" y="578.3" width="0.7" height="0.7" fill="#333" fill-opacity="0.6"/><rect x="67.7" y="559.6" width="0.7" height="0.7" fill="#333" fill-opacity="0.6"/><rect x="61.6" y="559.2" width="0.7" height="0.7" fill="#333" fill-opacity="0.6"/><rect x="70.7" y="577.9" width="0.7" height="0.7" fill="#333" fill-opacity="0.6"/><rect x="69.0" y="579.5" width="0.7" height="0.7" fill="#333" fill-opacity="0.6"/><rect x="69.8" y="576.8" width="0.7" height="0.7" fill="#333" fill-opacity="0.6"/><rect x="63.5" y="559.8" width="0.7" height="0.7" fill="#333" fill-opacity="0.6"/><rect x="71.5" y="564.9" width="0.7" height="0.7" fill="#333" fill-opacity="0.6"/><rect x="65.9" y="560.8" width="0.7" height="0.7" fill="#333" fill-opacity="0.6"/><rect x="78.3" y="554.7" width="0.7" height="0.7" fill="#333" fill-opacity="0.6"/><rect x="68.7" y="570.3" width="0.7" height="0.7" fill="#333" fill-opacity="0.6"/><rect x="69.6" y="564.7" width="0.7" height="0.7" fill="#333" fill-opacity="0.6"/><rect x="68.2" y="572.0" width="0.7" height="0.7" fill="#333" fill-opacity="0.6"/><rect x="69.3" y="580.2" width="0.7" height="0.7" fill="#333" fill-opacity="0.6"/><rect x="70.4" y="575.8" width="0.7" height="0.7" fill="#333" fill-opacity="0.6"/><rect x="68.9" y="562.8" width="0.7" height="0.7" fill="#333" fill-opacity="0.6"/><rect x="70.2" y="555.5" width="0.7" height="0.7" fill="#333" fill-opacity="0.6"/><rect x="65.0" y="558.8" width="0.7" height="0.7" fill="#333" fill-opacity="0.6"/><rect x="75.5" y="567.0" width="0.7" height="0.7" fill="#333" fill-opacity="0.6"/><rect x="64.7" y="562.7" width="0.7" height="0.7" fill="#333" fill-opacity="0.6"/><rect x="75.4" y="559.4" width="0.7" height="0.7" fill="#333" fill-opacity="0.6"/><rect x="67.5" y="573.8" width="0.7" height="0.7" fill="#333" fill-opacity="0.6"/><rect x="77.4" y="557.4" width="0.7" height="0.7" fill="#333" fill-opacity="0.6"/><rect x="71.4" y="567.1" width="0.7" height="0.7" fill="#333" fill-opacity="0.6"/><rect x="76.9" y="556.8" width="0.7" height="0.7" fill="#333" fill-opacity="0.6"/><rect x="68.0" y="576.1" width="0.7" height="0.7" fill="#333" fill-opacity="0.6"/><rect x="70.6" y="557.2" width="0.7" height="0.7" fill="#333" fill-opacity="0.6"/><rect x="68.7" y="577.5" width="0.7" height="0.7" fill="#333" fill-opacity="0.6"/><rect x="66.7" y="567.8" width="0.7" height="0.7" fill="#333" fill-opacity="0.6"/><rect x="71.3" y="578.9" width="0.7" height="0.7" fill="#333" fill-opacity="0.6"/><rect x="73.3" y="562.9" width="0.7" height="0.7" fill="#333" fill-opacity="0.6"/><rect x="73.6" y="562.1" width="0.7" height="0.7" fill="#333" fill-opacity="0.6"/><rect x="70.2" y="558.1" width="0.7" height="0.7" fill="#333" fill-opacity="0.6"/><rect x="70.7" y="561.0" width="0.7" height="0.7" fill="#333" fill-opacity="0.6"/><rect x="66.7" y="564.1" width="0.7" height="0.7" fill="#333" fill-opacity="0.6"/><rect x="76.6" y="563.5" width="0.7" height="0.7" fill="#333" fill-opacity="0.6"/><rect x="70.8" y="569.0" width="0.7" height="0.7" fill="#333" fill-opacity="0.6"/><rect x="74.4" y="554.6" width="0.7" height="0.7" fill="#333" fill-opacity="0.6"/><rect x="77.1" y="562.4" width="0.7" height="0.7" fill="#333" fill-opacity="0.6"/><rect x="69.8" y="570.3" width="0.7" height="0.7" fill="#333" fill-opacity="0.6"/><rect x="71.4" y="558.0" width="0.7" height="0.7" fill="#333" fill-opacity="0.6"/><rect x="66.9" y="576.5" width="0.7" height="0.7" fill="#333" fill-opacity="0.6"/><rect x="70.4" y="576.9" width="0.7" height="0.7" fill="#333" fill-opacity="0.6"/><rect x="63.0" y="566.3" width="0.7" height="0.7" fill="#333" fill-opacity="0.6"/><rect x="69.2" y="580.1" width="0.7" height="0.7" fill="#333" fill-opacity="0.6"/><rect x="72.7" y="565.0" width="0.7" height="0.7" fill="#333" fill-opacity="0.6"/><rect x="65.2" y="572.3" width="0.7" height="0.7" fill="#333" fill-opacity="0.6"/><rect x="68.5" y="566.6" width="0.7" height="0.7" fill="#333" fill-opacity="0.6"/><rect x="70.8" y="558.8" width="0.7" height="0.7" fill="#333" fill-opacity="0.6"/><rect x="69.0" y="556.7" width="0.7" height="0.7" fill="#333" fill-opacity="0.6"/><rect x="65.3" y="559.8" width="0.7" height="0.7" fill="#333" fill-opacity="0.6"/><rect x="75.6" y="557.2" width="0.7" height="0.7" fill="#333" fill-opacity="0.6"/><rect x="64.4" y="573.1" width="0.7" height="0.7" fill="#333" fill-opacity="0.6"/><rect x="69.5" y="563.3" width="0.7" height="0.7" fill="#333" fill-opacity="0.6"/><rect x="72.5" y="568.0" width="0.7" height="0.7" fill="#333" fill-opacity="0.6"/><rect x="65.4" y="559.7" width="0.7" height="0.7" fill="#333" fill-opacity="0.6"/><rect x="69.8" y="579.7" width="0.7" height="0.7" fill="#333" fill-opacity="0.6"/><rect x="68.1" y="579.9" width="0.7" height="0.7" fill="#333" fill-opacity="0.6"/><rect x="68.9" y="579.8" width="0.7" height="0.7" fill="#333" fill-opacity="0.6"/><rect x="69.2" y="564.1" width="0.7" height="0.7" fill="#333" fill-opacity="0.6"/><rect x="69.5" y="566.0" width="0.7" height="0.7" fill="#333" fill-opacity="0.6"/><rect x="66.8" y="568.4" width="0.7" height="0.7" fill="#333" fill-opacity="0.6"/><rect x="69.3" y="569.1" width="0.7" height="0.7" fill="#333" fill-opacity="0.6"/><rect x="69.1" y="553.9" width="0.7" height="0.7" fill="#333" fill-opacity="0.6"/><rect x="71.1" y="566.5" width="0.7" height="0.7" fill="#333" fill-opacity="0.6"/><rect x="74.4" y="555.6" width="0.7" height="0.7" fill="#333" fill-opacity="0.6"/><rect x="69.9" y="561.9" width="0.7" height="0.7" fill="#333" fill-opacity="0.6"/><rect x="64.0" y="571.1" width="0.7" height="0.7" fill="#333" fill-opacity="0.6"/><rect x="68.4" y="572.8" width="0.7" height="0.7" fill="#333" fill-opacity="0.6"/><rect x="71.3" y="574.2" width="0.7" height="0.7" fill="#333" fill-opacity="0.6"/><rect x="66.3" y="564.5" width="0.7" height="0.7" fill="#333" fill-opacity="0.6"/><rect x="70.9" y="580.2" width="0.7" height="0.7" fill="#333" fill-opacity="0.6"/><rect x="73.2" y="572.5" width="0.7" height="0.7" fill="#333" fill-opacity="0.6"/><rect x="75.7" y="555.7" width="0.7" height="0.7" fill="#333" fill-opacity="0.6"/><rect x="63.7" y="572.1" width="0.7" height="0.7" fill="#333" fill-opacity="0.6"/><rect x="69.9" y="574.6" width="0.7" height="0.7" fill="#333" fill-opacity="0.6"/><rect x="67.5" y="569.6" width="0.7" height="0.7" fill="#333" fill-opacity="0.6"/><rect x="72.6" y="569.1" width="0.7" height="0.7" fill="#333" fill-opacity="0.6"/><rect x="65.8" y="576.7" width="0.7" height="0.7" fill="#333" fill-opacity="0.6"/><rect x="73.2" y="571.1" width="0.7" height="0.7" fill="#333" fill-opacity="0.6"/><rect x="66.6" y="573.6" width="0.7" height="0.7" fill="#333" fill-opacity="0.6"/><rect x="71.9" y="561.8" width="0.7" height="0.7" fill="#333" fill-opacity="0.6"/><rect x="69.7" y="565.4" width="0.7" height="0.7" fill="#333" fill-opacity="0.6"/><rect x="73.0" y="557.9" width="0.7" height="0.7" fill="#333" fill-opacity="0.6"/><rect x="65.9" y="572.1" width="0.7" height="0.7" fill="#333" fill-opacity="0.6"/><rect x="67.8" y="572.1" width="0.7" height="0.7" fill="#333" fill-opacity="0.6"/><rect x="62.7" y="553.8" width="0.7" height="0.7" fill="#333" fill-opacity="0.6"/><rect x="69.3" y="576.0" width="0.7" height="0.7" fill="#333" fill-opacity="0.6"/><rect x="65.2" y="569.9" width="0.7" height="0.7" fill="#333" fill-opacity="0.6"/><rect x="73.7" y="572.8" width="0.7" height="0.7" fill="#333" fill-opacity="0.6"/><rect x="72.5" y="562.5" width="0.7" height="0.7" fill="#333" fill-opacity="0.6"/><rect x="68.4" y="556.9" width="0.7" height="0.7" fill="#333" fill-opacity="0.6"/><rect x="77.4" y="561.1" width="0.7" height="0.7" fill="#333" fill-opacity="0.6"/><rect x="72.3" y="574.7" width="0.7" height="0.7" fill="#333" fill-opacity="0.6"/><rect x="68.6" y="566.0" width="0.7" height="0.7" fill="#333" fill-opacity="0.6"/><rect x="66.7" y="568.5" width="0.7" height="0.7" fill="#333" fill-opacity="0.6"/><rect x="64.4" y="571.8" width="0.7" height="0.7" fill="#333" fill-opacity="0.6"/><rect x="70.8" y="572.5" width="0.7" height="0.7" fill="#333" fill-opacity="0.6"/><rect x="70.6" y="562.5" width="0.7" height="0.7" fill="#333" fill-opacity="0.6"/><rect x="68.2" y="574.8" width="0.7" height="0.7" fill="#333" fill-opacity="0.6"/><rect x="76.9" y="554.3" width="0.7" height="0.7" fill="#333" fill-opacity="0.6"/><rect x="68.3" y="556.4" width="0.7" height="0.7" fill="#333" fill-opacity="0.6"/><rect x="73.5" y="573.6" width="0.7" height="0.7" fill="#333" fill-opacity="0.6"/><rect x="68.4" y="573.2" width="0.7" height="0.7" fill="#333" fill-opacity="0.6"/><rect x="73.7" y="568.1" width="0.7" height="0.7" fill="#333" fill-opacity="0.6"/><rect x="75.2" y="568.2" width="0.7" height="0.7" fill="#333" fill-opacity="0.6"/><rect x="76.6" y="560.9" width="0.7" height="0.7" fill="#333" fill-opacity="0.6"/><rect x="69.6" y="580.0" width="0.7" height="0.7" fill="#333" fill-opacity="0.6"/><rect x="69.0" y="568.0" width="0.7" height="0.7" fill="#333" fill-opacity="0.6"/><rect x="103.7" y="574.8" width="0.7" height="0.7" fill="#333" fill-opacity="0.6"/><rect x="98.8" y="562.2" width="0.7" height="0.7" fill="#333" fill-opacity="0.6"/><rect x="104.8" y="560.7" width="0.7" height="0.7" fill="#333" fill-opacity="0.6"/><rect x="99.1" y="569.7" width="0.7" height="0.7" fill="#333" fill-opacity="0.6"/><rect x="97.3" y="558.5" width="0.7" height="0.7" fill="#333" fill-opacity="0.6"/><rect x="93.4" y="574.8" width="0.7" height="0.7" fill="#333" fill-opacity="0.6"/><rect x="99.8" y="572.4" width="0.7" height="0.7" fill="#333" fill-opacity="0.6"/><rect x="106.6" y="561.3" width="0.7" height="0.7" fill="#333" fill-opacity="0.6"/><rect x="94.2" y="554.8" width="0.7" height="0.7" fill="#333" fill-opacity="0.6"/><rect x="90.4" y="553.8" width="0.7" height="0.7" fill="#333" fill-opacity="0.6"/><rect x="100.6" y="563.1" width="0.7" height="0.7" fill="#333" fill-opacity="0.6"/><rect x="96.5" y="558.7" width="0.7" height="0.7" fill="#333" fill-opacity="0.6"/><rect x="102.5" y="575.2" width="0.7" height="0.7" fill="#333" fill-opacity="0.6"/><rect x="100.3" y="553.7" width="0.7" height="0.7" fill="#333" fill-opacity="0.6"/><rect x="98.9" y="577.0" width="0.7" height="0.7" fill="#333" fill-opacity="0.6"/><rect x="86.6" y="562.8" width="0.7" height="0.7" fill="#333" fill-opacity="0.6"/><rect x="110.7" y="569.9" width="0.7" height="0.7" fill="#333" fill-opacity="0.6"/><rect x="95.9" y="564.6" width="0.7" height="0.7" fill="#333" fill-opacity="0.6"/><rect x="103.1" y="555.7" width="0.7" height="0.7" fill="#333" fill-opacity="0.6"/><rect x="103.5" y="557.5" width="0.7" height="0.7" fill="#333" fill-opacity="0.6"/><rect x="98.4" y="577.2" width="0.7" height="0.7" fill="#333" fill-opacity="0.6"/><rect x="99.4" y="561.7" width="0.7" height="0.7" fill="#333" fill-opacity="0.6"/><rect x="108.8" y="560.1" width="0.7" height="0.7" fill="#333" fill-opacity="0.6"/><rect x="112.1" y="564.9" width="0.7" height="0.7" fill="#333" fill-opacity="0.6"/><rect x="98.3" y="574.7" width="0.7" height="0.7" fill="#333" fill-opacity="0.6"/><rect x="109.0" y="570.8" width="0.7" height="0.7" fill="#333" fill-opacity="0.6"/><rect x="94.3" y="569.0" width="0.7" height="0.7" fill="#333" fill-opacity="0.6"/><rect x="106.1" y="572.7" width="0.7" height="0.7" fill="#333" fill-opacity="0.6"/><rect x="102.9" y="566.7" width="0.7" height="0.7" fill="#333" fill-opacity="0.6"/><rect x="98.4" y="573.4" width="0.7" height="0.7" fill="#333" fill-opacity="0.6"/><rect x="94.8" y="555.7" width="0.7" height="0.7" fill="#333" fill-opacity="0.6"/><rect x="102.3" y="577.0" width="0.7" height="0.7" fill="#333" fill-opacity="0.6"/><rect x="105.2" y="564.1" width="0.7" height="0.7" fill="#333" fill-opacity="0.6"/><rect x="99.0" y="563.0" width="0.7" height="0.7" fill="#333" fill-opacity="0.6"/><rect x="98.5" y="571.3" width="0.7" height="0.7" fill="#333" fill-opacity="0.6"/><rect x="107.2" y="565.4" width="0.7" height="0.7" fill="#333" fill-opacity="0.6"/><rect x="102.9" y="559.5" width="0.7" height="0.7" fill="#333" fill-opacity="0.6"/><rect x="101.8" y="576.6" width="0.7" height="0.7" fill="#333" fill-opacity="0.6"/><rect x="102.3" y="567.8" width="0.7" height="0.7" fill="#333" fill-opacity="0.6"/><rect x="105.0" y="578.4" width="0.7" height="0.7" fill="#333" fill-opacity="0.6"/><rect x="102.5" y="566.7" width="0.7" height="0.7" fill="#333" fill-opacity="0.6"/><rect x="104.2" y="557.2" width="0.7" height="0.7" fill="#333" fill-opacity="0.6"/><rect x="104.0" y="564.1" width="0.7" height="0.7" fill="#333" fill-opacity="0.6"/><rect x="102.9" y="562.0" width="0.7" height="0.7" fill="#333" fill-opacity="0.6"/><rect x="106.1" y="569.4" width="0.7" height="0.7" fill="#333" fill-opacity="0.6"/><rect x="94.1" y="565.8" width="0.7" height="0.7" fill="#333" fill-opacity="0.6"/><rect x="94.8" y="565.8" width="0.7" height="0.7" fill="#333" fill-opacity="0.6"/><rect x="99.3" y="564.0" width="0.7" height="0.7" fill="#333" fill-opacity="0.6"/><rect x="96.5" y="556.2" width="0.7" height="0.7" fill="#333" fill-opacity="0.6"/><rect x="93.2" y="567.9" width="0.7" height="0.7" fill="#333" fill-opacity="0.6"/><rect x="90.0" y="560.8" width="0.7" height="0.7" fill="#333" fill-opacity="0.6"/><rect x="100.3" y="562.3" width="0.7" height="0.7" fill="#333" fill-opacity="0.6"/><rect x="105.7" y="566.6" width="0.7" height="0.7" fill="#333" fill-opacity="0.6"/><rect x="103.2" y="577.6" width="0.7" height="0.7" fill="#333" fill-opacity="0.6"/><rect x="95.6" y="555.1" width="0.7" height="0.7" fill="#333" fill-opacity="0.6"/><rect x="89.3" y="567.2" width="0.7" height="0.7" fill="#333" fill-opacity="0.6"/><rect x="104.8" y="569.8" width="0.7" height="0.7" fill="#333" fill-opacity="0.6"/><rect x="100.2" y="577.0" width="0.7" height="0.7" fill="#333" fill-opacity="0.6"/><rect x="105.5" y="574.9" width="0.7" height="0.7" fill="#333" fill-opacity="0.6"/><rect x="105.6" y="557.7" width="0.7" height="0.7" fill="#333" fill-opacity="0.6"/><rect x="104.2" y="571.9" width="0.7" height="0.7" fill="#333" fill-opacity="0.6"/><rect x="99.5" y="577.3" width="0.7" height="0.7" fill="#333" fill-opacity="0.6"/><rect x="95.2" y="573.7" width="0.7" height="0.7" fill="#333" fill-opacity="0.6"/><rect x="98.7" y="566.9" width="0.7" height="0.7" fill="#333" fill-opacity="0.6"/><rect x="99.9" y="574.0" width="0.7" height="0.7" fill="#333" fill-opacity="0.6"/><rect x="108.9" y="561.3" width="0.7" height="0.7" fill="#333" fill-opacity="0.6"/><rect x="95.8" y="563.1" width="0.7" height="0.7" fill="#333" fill-opacity="0.6"/><rect x="100.1" y="558.3" width="0.7" height="0.7" fill="#333" fill-opacity="0.6"/><rect x="105.8" y="572.3" width="0.7" height="0.7" fill="#333" fill-opacity="0.6"/><rect x="108.8" y="557.8" width="0.7" height="0.7" fill="#333" fill-opacity="0.6"/><rect x="102.6" y="569.7" width="0.7" height="0.7" fill="#333" fill-opacity="0.6"/><rect x="101.5" y="565.2" width="0.7" height="0.7" fill="#333" fill-opacity="0.6"/><rect x="112.0" y="554.2" width="0.7" height="0.7" fill="#333" fill-opacity="0.6"/><rect x="102.8" y="571.1" width="0.7" height="0.7" fill="#333" fill-opacity="0.6"/><rect x="98.1" y="576.1" width="0.7" height="0.7" fill="#333" fill-opacity="0.6"/><rect x="101.0" y="561.7" width="0.7" height="0.7" fill="#333" fill-opacity="0.6"/><rect x="99.6" y="577.7" width="0.7" height="0.7" fill="#333" fill-opacity="0.6"/><rect x="93.1" y="554.7" width="0.7" height="0.7" fill="#333" fill-opacity="0.6"/><rect x="97.8" y="567.8" width="0.7" height="0.7" fill="#333" fill-opacity="0.6"/><rect x="94.0" y="561.9" width="0.7" height="0.7" fill="#333" fill-opacity="0.6"/><rect x="102.8" y="571.6" width="0.7" height="0.7" fill="#333" fill-opacity="0.6"/><rect x="97.4" y="555.2" width="0.7" height="0.7" fill="#333" fill-opacity="0.6"/><rect x="92.0" y="564.0" width="0.7" height="0.7" fill="#333" fill-opacity="0.6"/><rect x="105.4" y="560.3" width="0.7" height="0.7" fill="#333" fill-opacity="0.6"/><rect x="99.9" y="574.4" width="0.7" height="0.7" fill="#333" fill-opacity="0.6"/><rect x="91.8" y="560.5" width="0.7" height="0.7" fill="#333" fill-opacity="0.6"/><rect x="98.5" y="577.9" width="0.7" height="0.7" fill="#333" fill-opacity="0.6"/><rect x="112.0" y="561.2" width="0.7" height="0.7" fill="#333" fill-opacity="0.6"/><rect x="100.6" y="561.0" width="0.7" height="0.7" fill="#333" fill-opacity="0.6"/><rect x="98.1" y="577.5" width="0.7" height="0.7" fill="#333" fill-opacity="0.6"/><rect x="101.6" y="567.8" width="0.7" height="0.7" fill="#333" fill-opacity="0.6"/><rect x="103.9" y="565.9" width="0.7" height="0.7" fill="#333" fill-opacity="0.6"/><rect x="102.4" y="571.5" width="0.7" height="0.7" fill="#333" fill-opacity="0.6"/><rect x="99.2" y="565.4" width="0.7" height="0.7" fill="#333" fill-opacity="0.6"/><rect x="104.0" y="560.8" width="0.7" height="0.7" fill="#333" fill-opacity="0.6"/><rect x="99.5" y="555.8" width="0.7" height="0.7" fill="#333" fill-opacity="0.6"/><rect x="86.3" y="556.1" width="0.7" height="0.7" fill="#333" fill-opacity="0.6"/><rect x="104.0" y="576.1" width="0.7" height="0.7" fill="#333" fill-opacity="0.6"/><rect x="108.9" y="573.0" width="0.7" height="0.7" fill="#333" fill-opacity="0.6"/><rect x="100.0" y="563.8" width="0.7" height="0.7" fill="#333" fill-opacity="0.6"/><rect x="111.2" y="560.0" width="0.7" height="0.7" fill="#333" fill-opacity="0.6"/><rect x="94.6" y="555.1" width="0.7" height="0.7" fill="#333" fill-opacity="0.6"/><rect x="97.3" y="571.5" width="0.7" height="0.7" fill="#333" fill-opacity="0.6"/><rect x="104.4" y="563.8" width="0.7" height="0.7" fill="#333" fill-opacity="0.6"/><rect x="106.2" y="559.5" width="0.7" height="0.7" fill="#333" fill-opacity="0.6"/><rect x="100.3" y="564.3" width="0.7" height="0.7" fill="#333" fill-opacity="0.6"/><rect x="104.8" y="577.6" width="0.7" height="0.7" fill="#333" fill-opacity="0.6"/><rect x="113.0" y="560.6" width="0.7" height="0.7" fill="#333" fill-opacity="0.6"/><rect x="105.1" y="564.5" width="0.7" height="0.7" fill="#333" fill-opacity="0.6"/><rect x="90.9" y="566.3" width="0.7" height="0.7" fill="#333" fill-opacity="0.6"/><rect x="92.2" y="555.7" width="0.7" height="0.7" fill="#333" fill-opacity="0.6"/><rect x="100.6" y="576.9" width="0.7" height="0.7" fill="#333" fill-opacity="0.6"/><rect x="90.1" y="560.2" width="0.7" height="0.7" fill="#333" fill-opacity="0.6"/><rect x="114.0" y="555.0" width="0.7" height="0.7" fill="#333" fill-opacity="0.6"/><rect x="103.9" y="565.8" width="0.7" height="0.7" fill="#333" fill-opacity="0.6"/><rect x="86.8" y="555.4" width="0.7" height="0.7" fill="#333" fill-opacity="0.6"/><rect x="106.0" y="561.9" width="0.7" height="0.7" fill="#333" fill-opacity="0.6"/><rect x="102.9" y="573.3" width="0.7" height="0.7" fill="#333" fill-opacity="0.6"/><rect x="96.6" y="562.3" width="0.7" height="0.7" fill="#333" fill-opacity="0.6"/><rect x="98.8" y="577.7" width="0.7" height="0.7" fill="#333" fill-opacity="0.6"/><rect x="98.2" y="572.7" width="0.7" height="0.7" fill="#333" fill-opacity="0.6"/><rect x="100.1" y="563.5" width="0.7" height="0.7" fill="#333" fill-opacity="0.6"/><rect x="100.5" y="573.5" width="0.7" height="0.7" fill="#333" fill-opacity="0.6"/><rect x="95.9" y="576.8" width="0.7" height="0.7" fill="#333" fill-opacity="0.6"/><rect x="101.2" y="577.6" width="0.7" height="0.7" fill="#333" fill-opacity="0.6"/><rect x="100.2" y="565.2" width="0.7" height="0.7" fill="#333" fill-opacity="0.6"/><rect x="105.7" y="567.7" width="0.7" height="0.7" fill="#333" fill-opacity="0.6"/><rect x="102.1" y="577.1" width="0.7" height="0.7" fill="#333" fill-opacity="0.6"/><rect x="106.3" y="573.1" width="0.7" height="0.7" fill="#333" fill-opacity="0.6"/><rect x="100.8" y="574.9" width="0.7" height="0.7" fill="#333" fill-opacity="0.6"/><rect x="91.8" y="563.7" width="0.7" height="0.7" fill="#333" fill-opacity="0.6"/><rect x="93.1" y="563.5" width="0.7" height="0.7" fill="#333" fill-opacity="0.6"/><rect x="111.0" y="556.8" width="0.7" height="0.7" fill="#333" fill-opacity="0.6"/><rect x="100.3" y="560.3" width="0.7" height="0.7" fill="#333" fill-opacity="0.6"/><rect x="94.0" y="556.3" width="0.7" height="0.7" fill="#333" fill-opacity="0.6"/><rect x="93.0" y="555.2" width="0.7" height="0.7" fill="#333" fill-opacity="0.6"/><rect x="99.5" y="578.1" width="0.7" height="0.7" fill="#333" fill-opacity="0.6"/><rect x="102.5" y="576.1" width="0.7" height="0.7" fill="#333" fill-opacity="0.6"/><rect x="99.7" y="556.9" width="0.7" height="0.7" fill="#333" fill-opacity="0.6"/><rect x="87.7" y="557.3" width="0.7" height="0.7" fill="#333" fill-opacity="0.6"/><rect x="100.3" y="566.6" width="0.7" height="0.7" fill="#333" fill-opacity="0.6"/><rect x="91.9" y="561.3" width="0.7" height="0.7" fill="#333" fill-opacity="0.6"/><rect x="103.0" y="571.7" width="0.7" height="0.7" fill="#333" fill-opacity="0.6"/><rect x="103.3" y="573.3" width="0.7" height="0.7" fill="#333" fill-opacity="0.6"/><rect x="90.8" y="558.1" width="0.7" height="0.7" fill="#333" fill-opacity="0.6"/><rect x="99.1" y="575.3" width="0.7" height="0.7" fill="#333" fill-opacity="0.6"/><rect x="107.6" y="564.9" width="0.7" height="0.7" fill="#333" fill-opacity="0.6"/><rect x="101.1" y="573.1" width="0.7" height="0.7" fill="#333" fill-opacity="0.6"/><rect x="105.1" y="561.6" width="0.7" height="0.7" fill="#333" fill-opacity="0.6"/><rect x="107.6" y="559.1" width="0.7" height="0.7" fill="#333" fill-opacity="0.6"/><rect x="94.7" y="563.7" width="0.7" height="0.7" fill="#333" fill-opacity="0.6"/><rect x="107.1" y="565.4" width="0.7" height="0.7" fill="#333" fill-opacity="0.6"/><rect x="99.8" y="561.3" width="0.7" height="0.7" fill="#333" fill-opacity="0.6"/><rect x="94.4" y="574.6" width="0.7" height="0.7" fill="#333" fill-opacity="0.6"/><rect x="104.5" y="567.3" width="0.7" height="0.7" fill="#333" fill-opacity="0.6"/><rect x="95.5" y="576.8" width="0.7" height="0.7" fill="#333" fill-opacity="0.6"/><rect x="99.0" y="555.4" width="0.7" height="0.7" fill="#333" fill-opacity="0.6"/><rect x="103.7" y="560.1" width="0.7" height="0.7" fill="#333" fill-opacity="0.6"/><rect x="95.4" y="578.0" width="0.7" height="0.7" fill="#333" fill-opacity="0.6"/><rect x="93.4" y="564.8" width="0.7" height="0.7" fill="#333" fill-opacity="0.6"/><rect x="98.0" y="575.8" width="0.7" height="0.7" fill="#333" fill-opacity="0.6"/><rect x="101.0" y="573.9" width="0.7" height="0.7" fill="#333" fill-opacity="0.6"/><rect x="102.9" y="577.4" width="0.7" height="0.7" fill="#333" fill-opacity="0.6"/><rect x="103.9" y="570.6" width="0.7" height="0.7" fill="#333" fill-opacity="0.6"/><rect x="97.6" y="560.9" width="0.7" height="0.7" fill="#333" fill-opacity="0.6"/><rect x="103.1" y="560.5" width="0.7" height="0.7" fill="#333" fill-opacity="0.6"/><rect x="92.3" y="561.9" width="0.7" height="0.7" fill="#333" fill-opacity="0.6"/><rect x="94.2" y="560.5" width="0.7" height="0.7" fill="#333" fill-opacity="0.6"/><rect x="94.0" y="554.2" width="0.7" height="0.7" fill="#333" fill-opacity="0.6"/><rect x="109.9" y="560.0" width="0.7" height="0.7" fill="#333" fill-opacity="0.6"/><rect x="103.5" y="563.4" width="0.7" height="0.7" fill="#333" fill-opacity="0.6"/><rect x="108.4" y="569.0" width="0.7" height="0.7" fill="#333" fill-opacity="0.6"/><rect x="106.9" y="556.2" width="0.7" height="0.7" fill="#333" fill-opacity="0.6"/><rect x="103.1" y="569.0" width="0.7" height="0.7" fill="#333" fill-opacity="0.6"/><rect x="102.4" y="571.0" width="0.7" height="0.7" fill="#333" fill-opacity="0.6"/><rect x="101.5" y="572.2" width="0.7" height="0.7" fill="#333" fill-opacity="0.6"/><rect x="99.2" y="565.7" width="0.7" height="0.7" fill="#333" fill-opacity="0.6"/><rect x="102.3" y="577.6" width="0.7" height="0.7" fill="#333" fill-opacity="0.6"/><rect x="94.8" y="563.4" width="0.7" height="0.7" fill="#333" fill-opacity="0.6"/><rect x="98.0" y="565.9" width="0.7" height="0.7" fill="#333" fill-opacity="0.6"/><rect x="103.0" y="575.7" width="0.7" height="0.7" fill="#333" fill-opacity="0.6"/><rect x="100.1" y="560.3" width="0.7" height="0.7" fill="#333" fill-opacity="0.6"/><rect x="100.3" y="572.9" width="0.7" height="0.7" fill="#333" fill-opacity="0.6"/><rect x="100.5" y="576.5" width="0.7" height="0.7" fill="#333" fill-opacity="0.6"/><rect x="102.6" y="566.1" width="0.7" height="0.7" fill="#333" fill-opacity="0.6"/><rect x="97.5" y="576.1" width="0.7" height="0.7" fill="#333" fill-opacity="0.6"/><rect x="100.7" y="567.0" width="0.7" height="0.7" fill="#333" fill-opacity="0.6"/><rect x="100.9" y="569.0" width="0.7" height="0.7" fill="#333" fill-opacity="0.6"/><rect x="101.8" y="571.0" width="0.7" height="0.7" fill="#333" fill-opacity="0.6"/><rect x="99.2" y="570.6" width="0.7" height="0.7" fill="#333" fill-opacity="0.6"/><rect x="96.9" y="564.8" width="0.7" height="0.7" fill="#333" fill-opacity="0.6"/><rect x="100.1" y="562.6" width="0.7" height="0.7" fill="#333" fill-opacity="0.6"/><rect x="102.3" y="568.3" width="0.7" height="0.7" fill="#333" fill-opacity="0.6"/><rect x="99.1" y="567.6" width="0.7" height="0.7" fill="#333" fill-opacity="0.6"/><rect x="102.4" y="574.5" width="0.7" height="0.7" fill="#333" fill-opacity="0.6"/><rect x="99.1" y="558.3" width="0.7" height="0.7" fill="#333" fill-opacity="0.6"/><rect x="103.1" y="577.4" width="0.7" height="0.7" fill="#333" fill-opacity="0.6"/><rect x="98.7" y="555.9" width="0.7" height="0.7" fill="#333" fill-opacity="0.6"/><rect x="95.8" y="577.0" width="0.7" height="0.7" fill="#333" fill-opacity="0.6"/><rect x="106.4" y="570.6" width="0.7" height="0.7" fill="#333" fill-opacity="0.6"/><rect x="103.2" y="574.9" width="0.7" height="0.7" fill="#333" fill-opacity="0.6"/><rect x="110.5" y="561.0" width="0.7" height="0.7" fill="#333" fill-opacity="0.6"/><rect x="106.3" y="565.6" width="0.7" height="0.7" fill="#333" fill-opacity="0.6"/><rect x="89.0" y="559.9" width="0.7" height="0.7" fill="#333" fill-opacity="0.6"/><rect x="93.4" y="560.9" width="0.7" height="0.7" fill="#333" fill-opacity="0.6"/><rect x="104.4" y="565.1" width="0.7" height="0.7" fill="#333" fill-opacity="0.6"/><rect x="100.4" y="558.2" width="0.7" height="0.7" fill="#333" fill-opacity="0.6"/><rect x="104.7" y="576.4" width="0.7" height="0.7" fill="#333" fill-opacity="0.6"/><rect x="87.0" y="555.4" width="0.7" height="0.7" fill="#333" fill-opacity="0.6"/><rect x="94.7" y="555.3" width="0.7" height="0.7" fill="#333" fill-opacity="0.6"/><rect x="103.3" y="575.2" width="0.7" height="0.7" fill="#333" fill-opacity="0.6"/><rect x="104.6" y="569.0" width="0.7" height="0.7" fill="#333" fill-opacity="0.6"/><rect x="98.6" y="570.7" width="0.7" height="0.7" fill="#333" fill-opacity="0.6"/><rect x="104.7" y="569.7" width="0.7" height="0.7" fill="#333" fill-opacity="0.6"/><rect x="96.9" y="566.1" width="0.7" height="0.7" fill="#333" fill-opacity="0.6"/><rect x="95.2" y="566.4" width="0.7" height="0.7" fill="#333" fill-opacity="0.6"/><rect x="92.8" y="554.7" width="0.7" height="0.7" fill="#333" fill-opacity="0.6"/><rect x="94.8" y="561.4" width="0.7" height="0.7" fill="#333" fill-opacity="0.6"/><rect x="100.9" y="573.6" width="0.7" height="0.7" fill="#333" fill-opacity="0.6"/><rect x="92.3" y="559.8" width="0.7" height="0.7" fill="#333" fill-opacity="0.6"/><rect x="102.4" y="567.2" width="0.7" height="0.7" fill="#333" fill-opacity="0.6"/><rect x="102.0" y="566.2" width="0.7" height="0.7" fill="#333" fill-opacity="0.6"/><rect x="91.3" y="557.2" width="0.7" height="0.7" fill="#333" fill-opacity="0.6"/><rect x="103.8" y="555.4" width="0.7" height="0.7" fill="#333" fill-opacity="0.6"/><rect x="106.3" y="570.9" width="0.7" height="0.7" fill="#333" fill-opacity="0.6"/><rect x="103.0" y="573.9" width="0.7" height="0.7" fill="#333" fill-opacity="0.6"/><rect x="105.8" y="568.1" width="0.7" height="0.7" fill="#333" fill-opacity="0.6"/><rect x="102.5" y="565.0" width="0.7" height="0.7" fill="#333" fill-opacity="0.6"/><rect x="103.5" y="577.5" width="0.7" height="0.7" fill="#333" fill-opacity="0.6"/><rect x="103.6" y="578.4" width="0.7" height="0.7" fill="#333" fill-opacity="0.6"/><rect x="101.2" y="573.0" width="0.7" height="0.7" fill="#333" fill-opacity="0.6"/><rect x="98.8" y="578.1" width="0.7" height="0.7" fill="#333" fill-opacity="0.6"/><rect x="111.3" y="567.7" width="0.7" height="0.7" fill="#333" fill-opacity="0.6"/><rect x="95.8" y="559.4" width="0.7" height="0.7" fill="#333" fill-opacity="0.6"/><rect x="101.3" y="574.2" width="0.7" height="0.7" fill="#333" fill-opacity="0.6"/><rect x="99.3" y="564.3" width="0.7" height="0.7" fill="#333" fill-opacity="0.6"/><rect x="104.4" y="573.5" width="0.7" height="0.7" fill="#333" fill-opacity="0.6"/><rect x="112.0" y="562.4" width="0.7" height="0.7" fill="#333" fill-opacity="0.6"/><rect x="102.6" y="574.7" width="0.7" height="0.7" fill="#333" fill-opacity="0.6"/><rect x="102.7" y="576.9" width="0.7" height="0.7" fill="#333" fill-opacity="0.6"/><rect x="99.5" y="560.6" width="0.7" height="0.7" fill="#333" fill-opacity="0.6"/><rect x="107.6" y="563.5" width="0.7" height="0.7" fill="#333" fill-opacity="0.6"/><rect x="102.3" y="555.3" width="0.7" height="0.7" fill="#333" fill-opacity="0.6"/><rect x="101.6" y="577.2" width="0.7" height="0.7" fill="#333" fill-opacity="0.6"/><rect x="102.1" y="571.9" width="0.7" height="0.7" fill="#333" fill-opacity="0.6"/><rect x="98.9" y="574.1" width="0.7" height="0.7" fill="#333" fill-opacity="0.6"/><rect x="89.3" y="557.9" width="0.7" height="0.7" fill="#333" fill-opacity="0.6"/><rect x="98.6" y="564.5" width="0.7" height="0.7" fill="#333" fill-opacity="0.6"/><rect x="96.6" y="575.9" width="0.7" height="0.7" fill="#333" fill-opacity="0.6"/><rect x="98.9" y="576.1" width="0.7" height="0.7" fill="#333" fill-opacity="0.6"/><rect x="111.3" y="557.6" width="0.7" height="0.7" fill="#333" fill-opacity="0.6"/><rect x="99.8" y="565.4" width="0.7" height="0.7" fill="#333" fill-opacity="0.6"/><rect x="99.2" y="574.4" width="0.7" height="0.7" fill="#333" fill-opacity="0.6"/><rect x="100.8" y="564.5" width="0.7" height="0.7" fill="#333" fill-opacity="0.6"/><rect x="92.3" y="559.7" width="0.7" height="0.7" fill="#333" fill-opacity="0.6"/><rect x="106.7" y="573.2" width="0.7" height="0.7" fill="#333" fill-opacity="0.6"/><rect x="103.9" y="561.8" width="0.7" height="0.7" fill="#333" fill-opacity="0.6"/><rect x="105.9" y="571.0" width="0.7" height="0.7" fill="#333" fill-opacity="0.6"/><rect x="99.7" y="571.5" width="0.7" height="0.7" fill="#333" fill-opacity="0.6"/><rect x="101.9" y="563.4" width="0.7" height="0.7" fill="#333" fill-opacity="0.6"/><rect x="100.2" y="559.0" width="0.7" height="0.7" fill="#333" fill-opacity="0.6"/><rect x="95.4" y="570.5" width="0.7" height="0.7" fill="#333" fill-opacity="0.6"/><rect x="101.6" y="576.4" width="0.7" height="0.7" fill="#333" fill-opacity="0.6"/><rect x="101.8" y="558.4" width="0.7" height="0.7" fill="#333" fill-opacity="0.6"/><rect x="112.7" y="554.7" width="0.7" height="0.7" fill="#333" fill-opacity="0.6"/><rect x="97.6" y="553.7" width="0.7" height="0.7" fill="#333" fill-opacity="0.6"/><rect x="102.5" y="564.5" width="0.7" height="0.7" fill="#333" fill-opacity="0.6"/><rect x="92.2" y="561.1" width="0.7" height="0.7" fill="#333" fill-opacity="0.6"/><rect x="95.4" y="560.5" width="0.7" height="0.7" fill="#333" fill-opacity="0.6"/><rect x="97.9" y="570.6" width="0.7" height="0.7" fill="#333" fill-opacity="0.6"/><rect x="100.4" y="577.2" width="0.7" height="0.7" fill="#333" fill-opacity="0.6"/><rect x="102.0" y="561.6" width="0.7" height="0.7" fill="#333" fill-opacity="0.6"/><rect x="101.8" y="571.0" width="0.7" height="0.7" fill="#333" fill-opacity="0.6"/><rect x="100.8" y="575.9" width="0.7" height="0.7" fill="#333" fill-opacity="0.6"/><rect x="93.6" y="562.1" width="0.7" height="0.7" fill="#333" fill-opacity="0.6"/><rect x="93.3" y="554.2" width="0.7" height="0.7" fill="#333" fill-opacity="0.6"/><rect x="94.0" y="564.3" width="0.7" height="0.7" fill="#333" fill-opacity="0.6"/><rect x="90.8" y="571.1" width="0.7" height="0.7" fill="#333" fill-opacity="0.6"/><rect x="103.2" y="573.0" width="0.7" height="0.7" fill="#333" fill-opacity="0.6"/><rect x="101.9" y="561.7" width="0.7" height="0.7" fill="#333" fill-opacity="0.6"/><rect x="99.4" y="568.6" width="0.7" height="0.7" fill="#333" fill-opacity="0.6"/><rect x="100.4" y="565.7" width="0.7" height="0.7" fill="#333" fill-opacity="0.6"/><rect x="101.4" y="574.0" width="0.7" height="0.7" fill="#333" fill-opacity="0.6"/><rect x="94.5" y="558.8" width="0.7" height="0.7" fill="#333" fill-opacity="0.6"/><rect x="93.6" y="560.4" width="0.7" height="0.7" fill="#333" fill-opacity="0.6"/><rect x="97.0" y="571.0" width="0.7" height="0.7" fill="#333" fill-opacity="0.6"/></g>
<rect x="56.3" y="584" width="25.7" height="46.6" fill="none" stroke="#222" stroke-width="1.4"/>
<rect x="86.4" y="584" width="26.1" height="46.6" fill="none" stroke="#222" stroke-width="1.4"/>
<circle cx="72.4" cy="612.1" r="0.6" fill="#58b04a" fill-opacity="0.7"/><circle cx="70.6" cy="622.0" r="0.6" fill="#58b04a" fill-opacity="0.7"/><circle cx="69.2" cy="609.1" r="0.6" fill="#58b04a" fill-opacity="0.7"/><circle cx="66.6" cy="601.1" r="0.6" fill="#58b04a" fill-opacity="0.7"/><circle cx="72.9" cy="605.9" r="0.6" fill="#58b04a" fill-opacity="0.7"/><circle cx="72.8" cy="626.0" r="0.6" fill="#58b04a" fill-opacity="0.7"/><circle cx="67.2" cy="613.8" r="0.6" fill="#58b04a" fill-opacity="0.7"/><circle cx="64.4" cy="605.5" r="0.6" fill="#58b04a" fill-opacity="0.7"/><circle cx="69.2" cy="588.6" r="0.6" fill="#58b04a" fill-opacity="0.7"/><circle cx="71.1" cy="626.0" r="0.6" fill="#58b04a" fill-opacity="0.7"/><circle cx="65.9" cy="590.6" r="0.6" fill="#58b04a" fill-opacity="0.7"/><circle cx="72.5" cy="626.7" r="0.6" fill="#58b04a" fill-opacity="0.7"/><circle cx="70.9" cy="596.0" r="0.6" fill="#58b04a" fill-opacity="0.7"/><circle cx="67.3" cy="619.3" r="0.6" fill="#58b04a" fill-opacity="0.7"/><circle cx="67.9" cy="602.0" r="0.6" fill="#58b04a" fill-opacity="0.7"/><circle cx="68.7" cy="587.6" r="0.6" fill="#58b04a" fill-opacity="0.7"/><circle cx="70.6" cy="593.6" r="0.6" fill="#58b04a" fill-opacity="0.7"/><circle cx="69.6" cy="599.2" r="0.6" fill="#58b04a" fill-opacity="0.7"/><circle cx="71.2" cy="610.2" r="0.6" fill="#58b04a" fill-opacity="0.7"/><circle cx="75.0" cy="621.0" r="0.6" fill="#58b04a" fill-opacity="0.7"/><circle cx="75.0" cy="589.0" r="0.6" fill="#58b04a" fill-opacity="0.7"/><circle cx="70.5" cy="604.3" r="0.6" fill="#58b04a" fill-opacity="0.7"/><circle cx="68.0" cy="620.4" r="0.6" fill="#58b04a" fill-opacity="0.7"/><circle cx="69.5" cy="620.6" r="0.6" fill="#58b04a" fill-opacity="0.7"/><circle cx="66.0" cy="593.1" r="0.6" fill="#58b04a" fill-opacity="0.7"/><circle cx="73.8" cy="622.7" r="0.6" fill="#58b04a" fill-opacity="0.7"/><circle cx="71.3" cy="619.8" r="0.6" fill="#58b04a" fill-opacity="0.7"/><circle cx="66.6" cy="616.4" r="0.6" fill="#58b04a" fill-opacity="0.7"/><circle cx="68.5" cy="610.8" r="0.6" fill="#58b04a" fill-opacity="0.7"/><circle cx="66.4" cy="591.1" r="0.6" fill="#58b04a" fill-opacity="0.7"/><circle cx="70.9" cy="614.2" r="0.6" fill="#58b04a" fill-opacity="0.7"/><circle cx="69.3" cy="601.5" r="0.6" fill="#58b04a" fill-opacity="0.7"/><circle cx="72.4" cy="593.6" r="0.6" fill="#58b04a" fill-opacity="0.7"/><circle cx="68.6" cy="605.2" r="0.6" fill="#58b04a" fill-opacity="0.7"/><circle cx="68.1" cy="592.4" r="0.6" fill="#58b04a" fill-opacity="0.7"/><circle cx="69.3" cy="599.1" r="0.6" fill="#58b04a" fill-opacity="0.7"/><circle cx="73.9" cy="615.4" r="0.6" fill="#58b04a" fill-opacity="0.7"/><circle cx="67.1" cy="601.2" r="0.6" fill="#58b04a" fill-opacity="0.7"/><circle cx="71.6" cy="614.5" r="0.6" fill="#58b04a" fill-opacity="0.7"/><circle cx="67.7" cy="594.2" r="0.6" fill="#58b04a" fill-opacity="0.7"/><circle cx="68.1" cy="604.9" r="0.6" fill="#58b04a" fill-opacity="0.7"/><circle cx="71.0" cy="624.2" r="0.6" fill="#58b04a" fill-opacity="0.7"/><circle cx="68.2" cy="616.9" r="0.6" fill="#58b04a" fill-opacity="0.7"/><circle cx="68.7" cy="595.8" r="0.6" fill="#58b04a" fill-opacity="0.7"/><circle cx="68.2" cy="596.6" r="0.6" fill="#58b04a" fill-opacity="0.7"/><circle cx="62.9" cy="619.9" r="0.6" fill="#58b04a" fill-opacity="0.7"/><circle cx="69.0" cy="590.1" r="0.6" fill="#58b04a" fill-opacity="0.7"/><circle cx="75.3" cy="605.9" r="0.6" fill="#58b04a" fill-opacity="0.7"/><circle cx="70.4" cy="590.7" r="0.6" fill="#58b04a" fill-opacity="0.7"/><circle cx="65.6" cy="595.3" r="0.6" fill="#58b04a" fill-opacity="0.7"/><circle cx="71.7" cy="624.9" r="0.6" fill="#58b04a" fill-opacity="0.7"/><circle cx="69.8" cy="621.5" r="0.6" fill="#58b04a" fill-opacity="0.7"/><circle cx="71.1" cy="611.6" r="0.6" fill="#58b04a" fill-opacity="0.7"/><circle cx="69.4" cy="621.6" r="0.6" fill="#58b04a" fill-opacity="0.7"/><circle cx="67.8" cy="603.1" r="0.6" fill="#58b04a" fill-opacity="0.7"/><circle cx="66.2" cy="595.6" r="0.6" fill="#58b04a" fill-opacity="0.7"/><circle cx="68.5" cy="613.4" r="0.6" fill="#58b04a" fill-opacity="0.7"/><circle cx="66.0" cy="616.6" r="0.6" fill="#58b04a" fill-opacity="0.7"/><circle cx="71.0" cy="587.4" r="0.6" fill="#58b04a" fill-opacity="0.7"/><circle cx="68.0" cy="587.2" r="0.6" fill="#58b04a" fill-opacity="0.7"/><circle cx="68.1" cy="587.7" r="0.6" fill="#58b04a" fill-opacity="0.7"/><circle cx="63.5" cy="615.3" r="0.6" fill="#58b04a" fill-opacity="0.7"/><circle cx="66.4" cy="597.3" r="0.6" fill="#58b04a" fill-opacity="0.7"/><circle cx="65.8" cy="616.4" r="0.6" fill="#58b04a" fill-opacity="0.7"/><circle cx="63.7" cy="621.3" r="0.6" fill="#58b04a" fill-opacity="0.7"/><circle cx="68.8" cy="600.9" r="0.6" fill="#58b04a" fill-opacity="0.7"/><circle cx="71.8" cy="591.8" r="0.6" fill="#58b04a" fill-opacity="0.7"/><circle cx="69.5" cy="621.6" r="0.6" fill="#58b04a" fill-opacity="0.7"/><circle cx="69.0" cy="611.0" r="0.6" fill="#58b04a" fill-opacity="0.7"/><circle cx="63.6" cy="612.9" r="0.6" fill="#58b04a" fill-opacity="0.7"/><circle cx="70.5" cy="595.8" r="0.6" fill="#58b04a" fill-opacity="0.7"/><circle cx="66.1" cy="595.9" r="0.6" fill="#58b04a" fill-opacity="0.7"/><circle cx="67.3" cy="611.6" r="0.6" fill="#58b04a" fill-opacity="0.7"/><circle cx="69.7" cy="611.3" r="0.6" fill="#58b04a" fill-opacity="0.7"/><circle cx="68.3" cy="624.3" r="0.6" fill="#58b04a" fill-opacity="0.7"/><circle cx="65.8" cy="621.2" r="0.6" fill="#58b04a" fill-opacity="0.7"/><circle cx="67.1" cy="622.0" r="0.6" fill="#58b04a" fill-opacity="0.7"/><circle cx="72.0" cy="593.1" r="0.6" fill="#58b04a" fill-opacity="0.7"/><circle cx="69.8" cy="615.5" r="0.6" fill="#58b04a" fill-opacity="0.7"/><circle cx="68.6" cy="602.7" r="0.6" fill="#58b04a" fill-opacity="0.7"/><circle cx="68.4" cy="597.1" r="0.6" fill="#58b04a" fill-opacity="0.7"/><circle cx="67.9" cy="588.4" r="0.6" fill="#58b04a" fill-opacity="0.7"/><circle cx="69.7" cy="598.0" r="0.6" fill="#58b04a" fill-opacity="0.7"/><circle cx="67.1" cy="589.9" r="0.6" fill="#58b04a" fill-opacity="0.7"/><circle cx="66.8" cy="598.6" r="0.6" fill="#58b04a" fill-opacity="0.7"/><circle cx="64.9" cy="602.0" r="0.6" fill="#58b04a" fill-opacity="0.7"/><circle cx="69.2" cy="596.4" r="0.6" fill="#58b04a" fill-opacity="0.7"/><circle cx="66.7" cy="619.0" r="0.6" fill="#58b04a" fill-opacity="0.7"/><circle cx="68.5" cy="623.9" r="0.6" fill="#58b04a" fill-opacity="0.7"/><circle cx="69.3" cy="611.6" r="0.6" fill="#58b04a" fill-opacity="0.7"/><circle cx="70.4" cy="591.7" r="0.6" fill="#58b04a" fill-opacity="0.7"/><circle cx="71.1" cy="618.0" r="0.6" fill="#58b04a" fill-opacity="0.7"/><circle cx="72.9" cy="615.7" r="0.6" fill="#58b04a" fill-opacity="0.7"/><circle cx="69.3" cy="590.4" r="0.6" fill="#58b04a" fill-opacity="0.7"/><circle cx="69.7" cy="609.8" r="0.6" fill="#58b04a" fill-opacity="0.7"/><circle cx="68.3" cy="596.2" r="0.6" fill="#58b04a" fill-opacity="0.7"/><circle cx="66.8" cy="587.6" r="0.6" fill="#58b04a" fill-opacity="0.7"/><circle cx="73.4" cy="594.0" r="0.6" fill="#58b04a" fill-opacity="0.7"/><circle cx="65.1" cy="615.2" r="0.6" fill="#58b04a" fill-opacity="0.7"/><circle cx="67.8" cy="623.9" r="0.6" fill="#58b04a" fill-opacity="0.7"/><circle cx="72.8" cy="626.7" r="0.6" fill="#58b04a" fill-opacity="0.7"/><circle cx="68.8" cy="615.0" r="0.6" fill="#58b04a" fill-opacity="0.7"/><circle cx="69.4" cy="600.6" r="0.6" fill="#58b04a" fill-opacity="0.7"/><circle cx="68.6" cy="600.7" r="0.6" fill="#58b04a" fill-opacity="0.7"/><circle cx="71.3" cy="594.6" r="0.6" fill="#58b04a" fill-opacity="0.7"/><circle cx="74.3" cy="620.8" r="0.6" fill="#58b04a" fill-opacity="0.7"/><circle cx="70.1" cy="598.7" r="0.6" fill="#58b04a" fill-opacity="0.7"/><circle cx="72.8" cy="595.7" r="0.6" fill="#58b04a" fill-opacity="0.7"/><circle cx="70.1" cy="624.6" r="0.6" fill="#58b04a" fill-opacity="0.7"/><circle cx="64.0" cy="599.5" r="0.6" fill="#58b04a" fill-opacity="0.7"/><circle cx="70.3" cy="619.1" r="0.6" fill="#58b04a" fill-opacity="0.7"/><circle cx="68.1" cy="587.7" r="0.6" fill="#58b04a" fill-opacity="0.7"/><circle cx="69.7" cy="596.5" r="0.6" fill="#58b04a" fill-opacity="0.7"/><circle cx="66.8" cy="600.2" r="0.6" fill="#58b04a" fill-opacity="0.7"/><circle cx="66.9" cy="587.3" r="0.6" fill="#58b04a" fill-opacity="0.7"/><circle cx="69.7" cy="588.9" r="0.6" fill="#58b04a" fill-opacity="0.7"/><circle cx="72.9" cy="620.3" r="0.6" fill="#58b04a" fill-opacity="0.7"/><circle cx="69.4" cy="589.3" r="0.6" fill="#58b04a" fill-opacity="0.7"/><circle cx="73.1" cy="611.2" r="0.6" fill="#58b04a" fill-opacity="0.7"/><circle cx="69.7" cy="591.6" r="0.6" fill="#58b04a" fill-opacity="0.7"/><circle cx="69.2" cy="604.5" r="0.6" fill="#58b04a" fill-opacity="0.7"/><circle cx="68.3" cy="621.8" r="0.6" fill="#58b04a" fill-opacity="0.7"/><circle cx="69.2" cy="599.7" r="0.6" fill="#58b04a" fill-opacity="0.7"/><circle cx="68.9" cy="587.3" r="0.6" fill="#58b04a" fill-opacity="0.7"/><circle cx="73.7" cy="594.4" r="0.6" fill="#58b04a" fill-opacity="0.7"/><circle cx="68.1" cy="614.7" r="0.6" fill="#58b04a" fill-opacity="0.7"/><circle cx="67.0" cy="595.9" r="0.6" fill="#58b04a" fill-opacity="0.7"/><circle cx="71.9" cy="616.5" r="0.6" fill="#58b04a" fill-opacity="0.7"/><circle cx="70.0" cy="617.1" r="0.6" fill="#58b04a" fill-opacity="0.7"/><circle cx="66.3" cy="610.1" r="0.6" fill="#58b04a" fill-opacity="0.7"/><circle cx="70.9" cy="603.5" r="0.6" fill="#58b04a" fill-opacity="0.7"/><circle cx="66.5" cy="592.9" r="0.6" fill="#58b04a" fill-opacity="0.7"/><circle cx="70.0" cy="594.2" r="0.6" fill="#58b04a" fill-opacity="0.7"/><circle cx="67.5" cy="613.7" r="0.6" fill="#58b04a" fill-opacity="0.7"/><circle cx="69.0" cy="590.0" r="0.6" fill="#58b04a" fill-opacity="0.7"/><circle cx="70.6" cy="603.9" r="0.6" fill="#58b04a" fill-opacity="0.7"/><circle cx="68.7" cy="624.3" r="0.6" fill="#58b04a" fill-opacity="0.7"/><circle cx="70.1" cy="597.5" r="0.6" fill="#58b04a" fill-opacity="0.7"/><circle cx="69.0" cy="602.0" r="0.6" fill="#58b04a" fill-opacity="0.7"/><circle cx="70.1" cy="621.8" r="0.6" fill="#58b04a" fill-opacity="0.7"/><circle cx="68.3" cy="609.2" r="0.6" fill="#58b04a" fill-opacity="0.7"/><circle cx="69.6" cy="602.3" r="0.6" fill="#58b04a" fill-opacity="0.7"/><circle cx="71.5" cy="618.4" r="0.6" fill="#58b04a" fill-opacity="0.7"/><circle cx="67.4" cy="596.1" r="0.6" fill="#58b04a" fill-opacity="0.7"/><circle cx="67.3" cy="610.7" r="0.6" fill="#58b04a" fill-opacity="0.7"/><circle cx="71.6" cy="594.6" r="0.6" fill="#58b04a" fill-opacity="0.7"/><circle cx="68.5" cy="625.6" r="0.6" fill="#58b04a" fill-opacity="0.7"/><circle cx="70.1" cy="599.0" r="0.6" fill="#58b04a" fill-opacity="0.7"/><circle cx="68.8" cy="609.5" r="0.6" fill="#58b04a" fill-opacity="0.7"/><circle cx="69.2" cy="626.8" r="0.6" fill="#58b04a" fill-opacity="0.7"/><circle cx="64.1" cy="612.8" r="0.6" fill="#58b04a" fill-opacity="0.7"/><circle cx="71.9" cy="601.6" r="0.6" fill="#58b04a" fill-opacity="0.7"/><circle cx="71.6" cy="591.8" r="0.6" fill="#58b04a" fill-opacity="0.7"/><circle cx="69.2" cy="609.6" r="0.6" fill="#58b04a" fill-opacity="0.7"/><circle cx="71.5" cy="603.5" r="0.6" fill="#58b04a" fill-opacity="0.7"/><circle cx="66.7" cy="604.5" r="0.6" fill="#58b04a" fill-opacity="0.7"/><circle cx="72.7" cy="591.9" r="0.6" fill="#58b04a" fill-opacity="0.7"/><circle cx="68.3" cy="594.5" r="0.6" fill="#58b04a" fill-opacity="0.7"/><circle cx="72.0" cy="594.0" r="0.6" fill="#58b04a" fill-opacity="0.7"/><circle cx="74.4" cy="604.9" r="0.6" fill="#58b04a" fill-opacity="0.7"/><circle cx="70.6" cy="609.8" r="0.6" fill="#58b04a" fill-opacity="0.7"/><circle cx="69.8" cy="625.9" r="0.6" fill="#58b04a" fill-opacity="0.7"/><circle cx="67.0" cy="598.2" r="0.6" fill="#58b04a" fill-opacity="0.7"/><circle cx="69.7" cy="615.7" r="0.6" fill="#58b04a" fill-opacity="0.7"/><circle cx="73.6" cy="590.2" r="0.6" fill="#58b04a" fill-opacity="0.7"/><circle cx="66.7" cy="595.9" r="0.6" fill="#58b04a" fill-opacity="0.7"/><circle cx="73.7" cy="590.0" r="0.6" fill="#58b04a" fill-opacity="0.7"/><circle cx="67.4" cy="611.5" r="0.6" fill="#58b04a" fill-opacity="0.7"/><circle cx="71.1" cy="625.7" r="0.6" fill="#58b04a" fill-opacity="0.7"/><circle cx="66.5" cy="595.6" r="0.6" fill="#58b04a" fill-opacity="0.7"/><circle cx="67.4" cy="596.1" r="0.6" fill="#58b04a" fill-opacity="0.7"/><circle cx="72.7" cy="590.4" r="0.6" fill="#58b04a" fill-opacity="0.7"/><circle cx="68.1" cy="611.7" r="0.6" fill="#58b04a" fill-opacity="0.7"/><circle cx="70.0" cy="624.1" r="0.6" fill="#58b04a" fill-opacity="0.7"/><circle cx="67.1" cy="602.3" r="0.6" fill="#58b04a" fill-opacity="0.7"/><circle cx="74.0" cy="589.2" r="0.6" fill="#58b04a" fill-opacity="0.7"/><circle cx="65.1" cy="599.0" r="0.6" fill="#58b04a" fill-opacity="0.7"/><circle cx="67.6" cy="622.6" r="0.6" fill="#58b04a" fill-opacity="0.7"/><circle cx="70.3" cy="595.2" r="0.6" fill="#58b04a" fill-opacity="0.7"/><circle cx="68.8" cy="592.5" r="0.6" fill="#58b04a" fill-opacity="0.7"/><circle cx="69.7" cy="602.8" r="0.6" fill="#58b04a" fill-opacity="0.7"/><circle cx="69.2" cy="602.3" r="0.6" fill="#58b04a" fill-opacity="0.7"/><circle cx="70.3" cy="623.2" r="0.6" fill="#58b04a" fill-opacity="0.7"/><circle cx="71.7" cy="604.3" r="0.6" fill="#58b04a" fill-opacity="0.7"/><circle cx="68.9" cy="589.6" r="0.6" fill="#58b04a" fill-opacity="0.7"/><circle cx="67.8" cy="610.6" r="0.6" fill="#58b04a" fill-opacity="0.7"/><circle cx="66.4" cy="601.5" r="0.6" fill="#58b04a" fill-opacity="0.7"/><circle cx="66.9" cy="602.4" r="0.6" fill="#58b04a" fill-opacity="0.7"/><circle cx="72.2" cy="621.5" r="0.6" fill="#58b04a" fill-opacity="0.7"/><circle cx="64.8" cy="615.3" r="0.6" fill="#58b04a" fill-opacity="0.7"/><circle cx="71.4" cy="624.6" r="0.6" fill="#58b04a" fill-opacity="0.7"/><circle cx="70.6" cy="611.4" r="0.6" fill="#58b04a" fill-opacity="0.7"/><circle cx="72.9" cy="619.1" r="0.6" fill="#58b04a" fill-opacity="0.7"/><circle cx="70.2" cy="624.4" r="0.6" fill="#58b04a" fill-opacity="0.7"/><circle cx="72.1" cy="596.9" r="0.6" fill="#58b04a" fill-opacity="0.7"/><circle cx="71.9" cy="624.6" r="0.6" fill="#58b04a" fill-opacity="0.7"/><circle cx="69.0" cy="601.8" r="0.6" fill="#58b04a" fill-opacity="0.7"/><circle cx="70.4" cy="600.9" r="0.6" fill="#58b04a" fill-opacity="0.7"/><circle cx="69.3" cy="597.1" r="0.6" fill="#58b04a" fill-opacity="0.7"/><circle cx="70.3" cy="612.0" r="0.6" fill="#58b04a" fill-opacity="0.7"/><circle cx="74.7" cy="591.8" r="0.6" fill="#58b04a" fill-opacity="0.7"/><circle cx="70.0" cy="613.7" r="0.6" fill="#58b04a" fill-opacity="0.7"/><circle cx="68.7" cy="596.9" r="0.6" fill="#58b04a" fill-opacity="0.7"/><circle cx="70.2" cy="613.9" r="0.6" fill="#58b04a" fill-opacity="0.7"/><circle cx="70.2" cy="618.0" r="0.6" fill="#58b04a" fill-opacity="0.7"/><circle cx="70.1" cy="603.8" r="0.6" fill="#58b04a" fill-opacity="0.7"/><circle cx="69.3" cy="611.6" r="0.6" fill="#58b04a" fill-opacity="0.7"/><circle cx="67.9" cy="625.9" r="0.6" fill="#58b04a" fill-opacity="0.7"/><circle cx="64.8" cy="600.2" r="0.6" fill="#58b04a" fill-opacity="0.7"/><circle cx="72.8" cy="601.8" r="0.6" fill="#58b04a" fill-opacity="0.7"/><circle cx="71.2" cy="621.9" r="0.6" fill="#58b04a" fill-opacity="0.7"/><circle cx="65.0" cy="618.3" r="0.6" fill="#58b04a" fill-opacity="0.7"/><circle cx="67.4" cy="591.7" r="0.6" fill="#58b04a" fill-opacity="0.7"/><circle cx="71.5" cy="588.3" r="0.6" fill="#58b04a" fill-opacity="0.7"/><circle cx="70.2" cy="616.6" r="0.6" fill="#58b04a" fill-opacity="0.7"/><circle cx="63.7" cy="599.0" r="0.6" fill="#58b04a" fill-opacity="0.7"/><circle cx="72.2" cy="620.5" r="0.6" fill="#58b04a" fill-opacity="0.7"/><circle cx="67.6" cy="598.9" r="0.6" fill="#58b04a" fill-opacity="0.7"/><circle cx="63.9" cy="598.8" r="0.6" fill="#58b04a" fill-opacity="0.7"/><circle cx="71.7" cy="592.5" r="0.6" fill="#58b04a" fill-opacity="0.7"/><circle cx="72.1" cy="619.7" r="0.6" fill="#58b04a" fill-opacity="0.7"/><circle cx="70.9" cy="604.7" r="0.6" fill="#58b04a" fill-opacity="0.7"/><circle cx="68.7" cy="625.5" r="0.6" fill="#58b04a" fill-opacity="0.7"/><circle cx="73.2" cy="614.2" r="0.6" fill="#58b04a" fill-opacity="0.7"/><circle cx="70.4" cy="619.3" r="0.6" fill="#58b04a" fill-opacity="0.7"/><circle cx="72.9" cy="618.9" r="0.6" fill="#58b04a" fill-opacity="0.7"/><circle cx="68.5" cy="595.9" r="0.6" fill="#58b04a" fill-opacity="0.7"/><circle cx="70.6" cy="626.5" r="0.6" fill="#58b04a" fill-opacity="0.7"/><circle cx="68.3" cy="587.2" r="0.6" fill="#58b04a" fill-opacity="0.7"/><circle cx="71.2" cy="592.1" r="0.6" fill="#58b04a" fill-opacity="0.7"/><circle cx="92.4" cy="592.4" r="0.6" fill="#58b04a" fill-opacity="0.7"/><circle cx="94.7" cy="617.2" r="0.6" fill="#58b04a" fill-opacity="0.7"/><circle cx="88.0" cy="600.5" r="0.6" fill="#58b04a" fill-opacity="0.7"/><circle cx="94.8" cy="620.3" r="0.6" fill="#58b04a" fill-opacity="0.7"/><circle cx="92.0" cy="593.1" r="0.6" fill="#58b04a" fill-opacity="0.7"/><circle cx="92.4" cy="615.7" r="0.6" fill="#58b04a" fill-opacity="0.7"/><circle cx="94.8" cy="592.0" r="0.6" fill="#58b04a" fill-opacity="0.7"/><circle cx="96.4" cy="594.2" r="0.6" fill="#58b04a" fill-opacity="0.7"/><circle cx="91.8" cy="595.5" r="0.6" fill="#58b04a" fill-opacity="0.7"/><circle cx="98.0" cy="616.7" r="0.6" fill="#58b04a" fill-opacity="0.7"/><circle cx="95.4" cy="617.6" r="0.6" fill="#58b04a" fill-opacity="0.7"/><circle cx="93.7" cy="616.1" r="0.6" fill="#58b04a" fill-opacity="0.7"/><circle cx="94.2" cy="610.1" r="0.6" fill="#58b04a" fill-opacity="0.7"/><circle cx="97.3" cy="618.8" r="0.6" fill="#58b04a" fill-opacity="0.7"/><circle cx="96.8" cy="596.6" r="0.6" fill="#58b04a" fill-opacity="0.7"/><circle cx="93.7" cy="602.5" r="0.6" fill="#58b04a" fill-opacity="0.7"/><circle cx="100.8" cy="612.2" r="0.6" fill="#58b04a" fill-opacity="0.7"/><circle cx="91.7" cy="612.8" r="0.6" fill="#58b04a" fill-opacity="0.7"/><circle cx="86.8" cy="615.9" r="0.6" fill="#58b04a" fill-opacity="0.7"/><circle cx="93.6" cy="615.7" r="0.6" fill="#58b04a" fill-opacity="0.7"/><circle cx="95.4" cy="613.9" r="0.6" fill="#58b04a" fill-opacity="0.7"/><circle cx="95.9" cy="612.5" r="0.6" fill="#58b04a" fill-opacity="0.7"/><circle cx="100.7" cy="593.6" r="0.6" fill="#58b04a" fill-opacity="0.7"/><circle cx="91.2" cy="614.8" r="0.6" fill="#58b04a" fill-opacity="0.7"/><circle cx="96.9" cy="598.4" r="0.6" fill="#58b04a" fill-opacity="0.7"/><circle cx="97.8" cy="602.7" r="0.6" fill="#58b04a" fill-opacity="0.7"/><circle cx="99.2" cy="619.8" r="0.6" fill="#58b04a" fill-opacity="0.7"/><circle cx="88.7" cy="601.3" r="0.6" fill="#58b04a" fill-opacity="0.7"/><circle cx="94.1" cy="595.9" r="0.6" fill="#58b04a" fill-opacity="0.7"/><circle cx="95.7" cy="590.7" r="0.6" fill="#58b04a" fill-opacity="0.7"/><circle cx="95.7" cy="593.3" r="0.6" fill="#58b04a" fill-opacity="0.7"/><circle cx="95.4" cy="588.0" r="0.6" fill="#58b04a" fill-opacity="0.7"/><circle cx="92.5" cy="601.8" r="0.6" fill="#58b04a" fill-opacity="0.7"/><circle cx="93.8" cy="615.5" r="0.6" fill="#58b04a" fill-opacity="0.7"/><circle cx="93.4" cy="601.1" r="0.6" fill="#58b04a" fill-opacity="0.7"/><circle cx="94.6" cy="589.8" r="0.6" fill="#58b04a" fill-opacity="0.7"/><circle cx="97.4" cy="610.8" r="0.6" fill="#58b04a" fill-opacity="0.7"/><circle cx="92.6" cy="600.1" r="0.6" fill="#58b04a" fill-opacity="0.7"/><circle cx="95.3" cy="598.3" r="0.6" fill="#58b04a" fill-opacity="0.7"/><circle cx="93.4" cy="590.5" r="0.6" fill="#58b04a" fill-opacity="0.7"/><circle cx="94.1" cy="600.9" r="0.6" fill="#58b04a" fill-opacity="0.7"/><circle cx="98.1" cy="610.6" r="0.6" fill="#58b04a" fill-opacity="0.7"/><circle cx="97.6" cy="620.6" r="0.6" fill="#58b04a" fill-opacity="0.7"/><circle cx="96.4" cy="591.3" r="0.6" fill="#58b04a" fill-opacity="0.7"/><circle cx="94.6" cy="619.9" r="0.6" fill="#58b04a" fill-opacity="0.7"/><circle cx="99.1" cy="602.4" r="0.6" fill="#58b04a" fill-opacity="0.7"/><circle cx="93.6" cy="591.6" r="0.6" fill="#58b04a" fill-opacity="0.7"/><circle cx="97.2" cy="598.7" r="0.6" fill="#58b04a" fill-opacity="0.7"/><circle cx="98.5" cy="611.9" r="0.6" fill="#58b04a" fill-opacity="0.7"/><circle cx="102.2" cy="592.4" r="0.6" fill="#58b04a" fill-opacity="0.7"/><circle cx="95.0" cy="619.6" r="0.6" fill="#58b04a" fill-opacity="0.7"/><circle cx="96.3" cy="619.1" r="0.6" fill="#58b04a" fill-opacity="0.7"/><circle cx="95.4" cy="614.3" r="0.6" fill="#58b04a" fill-opacity="0.7"/><circle cx="97.7" cy="617.3" r="0.6" fill="#58b04a" fill-opacity="0.7"/><circle cx="97.5" cy="600.1" r="0.6" fill="#58b04a" fill-opacity="0.7"/><circle cx="96.9" cy="611.4" r="0.6" fill="#58b04a" fill-opacity="0.7"/><circle cx="97.1" cy="595.0" r="0.6" fill="#58b04a" fill-opacity="0.7"/><circle cx="97.8" cy="598.8" r="0.6" fill="#58b04a" fill-opacity="0.7"/><circle cx="96.2" cy="592.5" r="0.6" fill="#58b04a" fill-opacity="0.7"/><circle cx="98.6" cy="617.8" r="0.6" fill="#58b04a" fill-opacity="0.7"/><circle cx="93.2" cy="614.8" r="0.6" fill="#58b04a" fill-opacity="0.7"/><circle cx="95.2" cy="595.7" r="0.6" fill="#58b04a" fill-opacity="0.7"/><circle cx="95.4" cy="611.0" r="0.6" fill="#58b04a" fill-opacity="0.7"/><circle cx="91.4" cy="588.4" r="0.6" fill="#58b04a" fill-opacity="0.7"/><circle cx="94.3" cy="592.7" r="0.6" fill="#58b04a" fill-opacity="0.7"/><circle cx="91.6" cy="591.5" r="0.6" fill="#58b04a" fill-opacity="0.7"/><circle cx="97.3" cy="620.1" r="0.6" fill="#58b04a" fill-opacity="0.7"/><circle cx="99.7" cy="613.2" r="0.6" fill="#58b04a" fill-opacity="0.7"/><circle cx="96.6" cy="614.4" r="0.6" fill="#58b04a" fill-opacity="0.7"/><circle cx="90.5" cy="611.5" r="0.6" fill="#58b04a" fill-opacity="0.7"/><circle cx="96.3" cy="614.0" r="0.6" fill="#58b04a" fill-opacity="0.7"/><circle cx="95.4" cy="615.1" r="0.6" fill="#58b04a" fill-opacity="0.7"/><circle cx="95.3" cy="593.3" r="0.6" fill="#58b04a" fill-opacity="0.7"/><circle cx="97.8" cy="597.1" r="0.6" fill="#58b04a" fill-opacity="0.7"/><circle cx="96.5" cy="616.7" r="0.6" fill="#58b04a" fill-opacity="0.7"/><circle cx="97.9" cy="610.4" r="0.6" fill="#58b04a" fill-opacity="0.7"/><circle cx="92.1" cy="597.4" r="0.6" fill="#58b04a" fill-opacity="0.7"/><circle cx="94.0" cy="614.8" r="0.6" fill="#58b04a" fill-opacity="0.7"/><circle cx="100.1" cy="611.2" r="0.6" fill="#58b04a" fill-opacity="0.7"/><circle cx="92.7" cy="596.8" r="0.6" fill="#58b04a" fill-opacity="0.7"/><circle cx="97.2" cy="610.4" r="0.6" fill="#58b04a" fill-opacity="0.7"/><circle cx="101.4" cy="610.9" r="0.6" fill="#58b04a" fill-opacity="0.7"/><circle cx="95.6" cy="603.0" r="0.6" fill="#58b04a" fill-opacity="0.7"/><circle cx="96.9" cy="614.7" r="0.6" fill="#58b04a" fill-opacity="0.7"/><circle cx="91.9" cy="618.1" r="0.6" fill="#58b04a" fill-opacity="0.7"/><circle cx="95.6" cy="591.1" r="0.6" fill="#58b04a" fill-opacity="0.7"/><circle cx="96.5" cy="612.1" r="0.6" fill="#58b04a" fill-opacity="0.7"/><circle cx="97.2" cy="612.6" r="0.6" fill="#58b04a" fill-opacity="0.7"/><circle cx="95.1" cy="610.7" r="0.6" fill="#58b04a" fill-opacity="0.7"/><circle cx="96.7" cy="611.5" r="0.6" fill="#58b04a" fill-opacity="0.7"/><circle cx="99.8" cy="598.1" r="0.6" fill="#58b04a" fill-opacity="0.7"/><circle cx="95.9" cy="617.1" r="0.6" fill="#58b04a" fill-opacity="0.7"/><circle cx="93.4" cy="590.0" r="0.6" fill="#58b04a" fill-opacity="0.7"/><circle cx="99.9" cy="596.2" r="0.6" fill="#58b04a" fill-opacity="0.7"/><circle cx="97.2" cy="611.7" r="0.6" fill="#58b04a" fill-opacity="0.7"/><circle cx="93.6" cy="591.1" r="0.6" fill="#58b04a" fill-opacity="0.7"/><circle cx="97.6" cy="593.4" r="0.6" fill="#58b04a" fill-opacity="0.7"/><circle cx="94.5" cy="589.7" r="0.6" fill="#58b04a" fill-opacity="0.7"/><circle cx="95.0" cy="614.9" r="0.6" fill="#58b04a" fill-opacity="0.7"/><circle cx="99.0" cy="615.2" r="0.6" fill="#58b04a" fill-opacity="0.7"/><circle cx="98.1" cy="617.9" r="0.6" fill="#58b04a" fill-opacity="0.7"/><circle cx="97.7" cy="612.1" r="0.6" fill="#58b04a" fill-opacity="0.7"/><circle cx="91.6" cy="620.1" r="0.6" fill="#58b04a" fill-opacity="0.7"/><circle cx="91.4" cy="597.8" r="0.6" fill="#58b04a" fill-opacity="0.7"/><circle cx="96.6" cy="589.2" r="0.6" fill="#58b04a" fill-opacity="0.7"/><circle cx="90.9" cy="592.4" r="0.6" fill="#58b04a" fill-opacity="0.7"/><circle cx="95.7" cy="617.9" r="0.6" fill="#58b04a" fill-opacity="0.7"/><circle cx="93.5" cy="619.1" r="0.6" fill="#58b04a" fill-opacity="0.7"/><circle cx="96.8" cy="611.5" r="0.6" fill="#58b04a" fill-opacity="0.7"/><circle cx="94.1" cy="611.2" r="0.6" fill="#58b04a" fill-opacity="0.7"/><circle cx="92.1" cy="620.4" r="0.6" fill="#58b04a" fill-opacity="0.7"/><circle cx="97.8" cy="602.9" r="0.6" fill="#58b04a" fill-opacity="0.7"/><circle cx="89.4" cy="590.1" r="0.6" fill="#58b04a" fill-opacity="0.7"/><circle cx="98.2" cy="610.4" r="0.6" fill="#58b04a" fill-opacity="0.7"/><circle cx="100.8" cy="612.4" r="0.6" fill="#58b04a" fill-opacity="0.7"/><circle cx="95.9" cy="618.7" r="0.6" fill="#58b04a" fill-opacity="0.7"/><circle cx="93.1" cy="590.1" r="0.6" fill="#58b04a" fill-opacity="0.7"/><circle cx="95.6" cy="593.1" r="0.6" fill="#58b04a" fill-opacity="0.7"/><circle cx="100.5" cy="611.8" r="0.6" fill="#58b04a" fill-opacity="0.7"/><circle cx="95.9" cy="616.2" r="0.6" fill="#58b04a" fill-opacity="0.7"/><circle cx="92.9" cy="613.6" r="0.6" fill="#58b04a" fill-opacity="0.7"/><circle cx="97.2" cy="611.7" r="0.6" fill="#58b04a" fill-opacity="0.7"/><circle cx="95.4" cy="602.4" r="0.6" fill="#58b04a" fill-opacity="0.7"/><circle cx="93.5" cy="616.2" r="0.6" fill="#58b04a" fill-opacity="0.7"/><circle cx="95.1" cy="602.3" r="0.6" fill="#58b04a" fill-opacity="0.7"/><circle cx="98.1" cy="601.3" r="0.6" fill="#58b04a" fill-opacity="0.7"/><circle cx="97.9" cy="591.3" r="0.6" fill="#58b04a" fill-opacity="0.7"/><circle cx="98.5" cy="620.4" r="0.6" fill="#58b04a" fill-opacity="0.7"/><circle cx="95.7" cy="616.2" r="0.6" fill="#58b04a" fill-opacity="0.7"/><circle cx="97.7" cy="602.5" r="0.6" fill="#58b04a" fill-opacity="0.7"/>
<text x="50.00" y="661.00" font-size="8.0" text-anchor="start" font-weight="normal" fill="#2a2a2a" transform="rotate(-44 50.00 661.00)" >2.6+/-0.7</text>
<text x="78.80" y="662.60" font-size="8.0" text-anchor="start" font-weight="normal" fill="#2a2a2a" transform="rotate(-44 78.80 662.60)" >1.4+/-0.5*</text>
<text x="130.80" y="355.20" font-size="11.5" text-anchor="start" font-weight="bold" fill="#111" >D</text>
<text x="236.5" y="372.7" font-size="10" fill="#2a2a2a">Lin<tspan font-size="7" dy="-4">-</tspan><tspan dy="4">CD34</tspan><tspan font-size="7" dy="-4">+</tspan><tspan dy="4">CD38</tspan><tspan font-size="7" dy="-4">-</tspan><tspan dy="4">CTV</tspan><tspan font-size="7.6" dy="-3.4">low</tspan></text>
<text x="232.8" y="523.0" font-size="10" fill="#2a2a2a">Lin<tspan font-size="7" dy="-4">-</tspan><tspan dy="4">CD34</tspan><tspan font-size="7" dy="-4">+</tspan><tspan dy="4">CD38</tspan><tspan font-size="7" dy="-4">-</tspan><tspan dy="4">CTV</tspan><tspan font-size="7.6" dy="-3.4">max</tspan></text>
<rect x="179.20" y="392.30" width="9.60" height="98.50" fill="#d98c14" />
<rect x="191.30" y="435.60" width="9.30" height="55.20" fill="#d98c14" />
<rect x="203.30" y="442.30" width="9.20" height="48.50" fill="#d98c14" />
<rect x="215.40" y="484.20" width="9.60" height="6.60" fill="#d98c14" />
<line x1="170.90" y1="490.80" x2="231.20" y2="490.80" stroke="#161616" stroke-width="1.2" />
<line x1="171.30" y1="388.50" x2="171.30" y2="490.80" stroke="#161616" stroke-width="1.2" />
<line x1="168.40" y1="490.80" x2="171.30" y2="490.80" stroke="#161616" stroke-width="1.08" />
<text x="0" y="0" font-size="8.505" text-anchor="end" font-weight="normal" fill="#2a2a2a" transform="translate(165.10 493.59) scale(0.95 1)" >0</text>
<line x1="168.40" y1="476.67" x2="171.30" y2="476.67" stroke="#161616" stroke-width="1.08" />
<text x="0" y="0" font-size="8.505" text-anchor="end" font-weight="normal" fill="#2a2a2a" transform="translate(165.10 479.47) scale(0.95 1)" >2000</text>
<line x1="168.40" y1="462.54" x2="171.30" y2="462.54" stroke="#161616" stroke-width="1.08" />
<text x="0" y="0" font-size="8.505" text-anchor="end" font-weight="normal" fill="#2a2a2a" transform="translate(165.10 465.34) scale(0.95 1)" >4000</text>
<line x1="168.40" y1="448.41" x2="171.30" y2="448.41" stroke="#161616" stroke-width="1.08" />
<text x="0" y="0" font-size="8.505" text-anchor="end" font-weight="normal" fill="#2a2a2a" transform="translate(165.10 451.21) scale(0.95 1)" >6000</text>
<line x1="168.40" y1="434.29" x2="171.30" y2="434.29" stroke="#161616" stroke-width="1.08" />
<text x="0" y="0" font-size="8.505" text-anchor="end" font-weight="normal" fill="#2a2a2a" transform="translate(165.10 437.08) scale(0.95 1)" >8000</text>
<line x1="168.40" y1="420.16" x2="171.30" y2="420.16" stroke="#161616" stroke-width="1.08" />
<text x="0" y="0" font-size="8.505" text-anchor="end" font-weight="normal" fill="#2a2a2a" transform="translate(165.10 422.95) scale(0.95 1)" >10000</text>
<line x1="168.40" y1="406.03" x2="171.30" y2="406.03" stroke="#161616" stroke-width="1.08" />
<text x="0" y="0" font-size="8.505" text-anchor="end" font-weight="normal" fill="#2a2a2a" transform="translate(165.10 408.82) scale(0.95 1)" >12000</text>
<line x1="168.40" y1="391.90" x2="171.30" y2="391.90" stroke="#161616" stroke-width="1.08" />
<text x="0" y="0" font-size="8.505" text-anchor="end" font-weight="normal" fill="#2a2a2a" transform="translate(165.10 394.69) scale(0.95 1)" >14000</text>
<text x="0" y="0" font-size="8.3" text-anchor="end" fill="#2a2a2a" transform="translate(186.49 493.70) rotate(-90)">C</text>
<text x="0" y="0" font-size="8.3" text-anchor="end" fill="#2a2a2a" transform="translate(198.44 493.70) rotate(-90)">O</text>
<text x="0" y="0" font-size="8.3" text-anchor="end" fill="#2a2a2a" transform="translate(210.39 493.70) rotate(-90)">R</text>
<text x="0" y="0" font-size="8.3" text-anchor="end" fill="#2a2a2a" transform="translate(222.69 493.70) rotate(-90)">R+O</text>
<text x="201.30" y="383.40" font-size="7.6" text-anchor="middle" font-weight="normal" fill="#2a2a2a" >PV 338-S</text>
<rect x="264.20" y="398.10" width="8.80" height="92.30" fill="#d98c14" />
<rect x="276.20" y="429.20" width="8.80" height="61.20" fill="#d98c14" />
<rect x="288.00" y="444.20" width="9.20" height="46.20" fill="#d98c14" />
<rect x="300.00" y="482.30" width="8.80" height="8.10" fill="#d98c14" />
<line x1="256.40" y1="490.40" x2="315.70" y2="490.40" stroke="#161616" stroke-width="1.2" />
<line x1="256.80" y1="395.80" x2="256.80" y2="490.40" stroke="#161616" stroke-width="1.2" />
<line x1="253.90" y1="490.40" x2="256.80" y2="490.40" stroke="#161616" stroke-width="1.08" />
<text x="0" y="0" font-size="8.505" text-anchor="end" font-weight="normal" fill="#2a2a2a" transform="translate(250.60 493.19) scale(0.95 1)" >0</text>
<line x1="253.90" y1="475.28" x2="256.80" y2="475.28" stroke="#161616" stroke-width="1.08" />
<text x="0" y="0" font-size="8.505" text-anchor="end" font-weight="normal" fill="#2a2a2a" transform="translate(250.60 478.08) scale(0.95 1)" >200</text>
<line x1="253.90" y1="460.17" x2="256.80" y2="460.17" stroke="#161616" stroke-width="1.08" />
<text x="0" y="0" font-size="8.505" text-anchor="end" font-weight="normal" fill="#2a2a2a" transform="translate(250.60 462.96) scale(0.95 1)" >400</text>
<line x1="253.90" y1="445.05" x2="256.80" y2="445.05" stroke="#161616" stroke-width="1.08" />
<text x="0" y="0" font-size="8.505" text-anchor="end" font-weight="normal" fill="#2a2a2a" transform="translate(250.60 447.84) scale(0.95 1)" >600</text>
<line x1="253.90" y1="429.93" x2="256.80" y2="429.93" stroke="#161616" stroke-width="1.08" />
<text x="0" y="0" font-size="8.505" text-anchor="end" font-weight="normal" fill="#2a2a2a" transform="translate(250.60 432.73) scale(0.95 1)" >800</text>
<line x1="253.90" y1="414.82" x2="256.80" y2="414.82" stroke="#161616" stroke-width="1.08" />
<text x="0" y="0" font-size="8.505" text-anchor="end" font-weight="normal" fill="#2a2a2a" transform="translate(250.60 417.61) scale(0.95 1)" >1000</text>
<line x1="253.90" y1="399.70" x2="256.80" y2="399.70" stroke="#161616" stroke-width="1.08" />
<text x="0" y="0" font-size="8.505" text-anchor="end" font-weight="normal" fill="#2a2a2a" transform="translate(250.60 402.49) scale(0.95 1)" >1200</text>
<text x="0" y="0" font-size="8.3" text-anchor="end" fill="#2a2a2a" transform="translate(271.09 493.30) rotate(-90)">C</text>
<text x="0" y="0" font-size="8.3" text-anchor="end" fill="#2a2a2a" transform="translate(283.09 493.30) rotate(-90)">O</text>
<text x="0" y="0" font-size="8.3" text-anchor="end" fill="#2a2a2a" transform="translate(295.09 493.30) rotate(-90)">R</text>
<text x="0" y="0" font-size="8.3" text-anchor="end" fill="#2a2a2a" transform="translate(306.89 493.30) rotate(-90)">R+O</text>
<text x="285.90" y="383.60" font-size="7.6" text-anchor="middle" font-weight="normal" fill="#2a2a2a" >PV 742-K</text>
<rect x="353.80" y="393.80" width="9.40" height="97.00" fill="#d98c14" />
<rect x="366.20" y="418.30" width="9.10" height="72.50" fill="#d98c14" />
<rect x="378.30" y="431.00" width="8.90" height="59.80" fill="#d98c14" />
<rect x="390.20" y="480.20" width="9.10" height="10.60" fill="#d98c14" />
<line x1="345.80" y1="490.80" x2="405.60" y2="490.80" stroke="#161616" stroke-width="1.2" />
<line x1="346.20" y1="389.50" x2="346.20" y2="490.80" stroke="#161616" stroke-width="1.2" />
<line x1="343.30" y1="490.80" x2="346.20" y2="490.80" stroke="#161616" stroke-width="1.08" />
<text x="0" y="0" font-size="8.505" text-anchor="end" font-weight="normal" fill="#2a2a2a" transform="translate(340.00 493.59) scale(0.95 1)" >0</text>
<line x1="343.30" y1="478.53" x2="346.20" y2="478.53" stroke="#161616" stroke-width="1.08" />
<text x="0" y="0" font-size="8.505" text-anchor="end" font-weight="normal" fill="#2a2a2a" transform="translate(340.00 481.32) scale(0.95 1)" >200</text>
<line x1="343.30" y1="466.25" x2="346.20" y2="466.25" stroke="#161616" stroke-width="1.08" />
<text x="0" y="0" font-size="8.505" text-anchor="end" font-weight="normal" fill="#2a2a2a" transform="translate(340.00 469.04) scale(0.95 1)" >400</text>
<line x1="343.30" y1="453.98" x2="346.20" y2="453.98" stroke="#161616" stroke-width="1.08" />
<text x="0" y="0" font-size="8.505" text-anchor="end" font-weight="normal" fill="#2a2a2a" transform="translate(340.00 456.77) scale(0.95 1)" >600</text>
<line x1="343.30" y1="441.70" x2="346.20" y2="441.70" stroke="#161616" stroke-width="1.08" />
<text x="0" y="0" font-size="8.505" text-anchor="end" font-weight="normal" fill="#2a2a2a" transform="translate(340.00 444.49) scale(0.95 1)" >800</text>
<line x1="343.30" y1="429.43" x2="346.20" y2="429.43" stroke="#161616" stroke-width="1.08" />
<text x="0" y="0" font-size="8.505" text-anchor="end" font-weight="normal" fill="#2a2a2a" transform="translate(340.00 432.22) scale(0.95 1)" >1000</text>
<line x1="343.30" y1="417.15" x2="346.20" y2="417.15" stroke="#161616" stroke-width="1.08" />
<text x="0" y="0" font-size="8.505" text-anchor="end" font-weight="normal" fill="#2a2a2a" transform="translate(340.00 419.94) scale(0.95 1)" >1200</text>
<line x1="343.30" y1="404.88" x2="346.20" y2="404.88" stroke="#161616" stroke-width="1.08" />
<text x="0" y="0" font-size="8.505" text-anchor="end" font-weight="normal" fill="#2a2a2a" transform="translate(340.00 407.67) scale(0.95 1)" >1400</text>
<line x1="343.30" y1="392.60" x2="346.20" y2="392.60" stroke="#161616" stroke-width="1.08" />
<text x="0" y="0" font-size="8.505" text-anchor="end" font-weight="normal" fill="#2a2a2a" transform="translate(340.00 395.39) scale(0.95 1)" >1600</text>
<text x="0" y="0" font-size="8.3" text-anchor="end" fill="#2a2a2a" transform="translate(360.99 493.70) rotate(-90)">C</text>
<text x="0" y="0" font-size="8.3" text-anchor="end" fill="#2a2a2a" transform="translate(373.24 493.70) rotate(-90)">O</text>
<text x="0" y="0" font-size="8.3" text-anchor="end" fill="#2a2a2a" transform="translate(385.24 493.70) rotate(-90)">R</text>
<text x="0" y="0" font-size="8.3" text-anchor="end" fill="#2a2a2a" transform="translate(397.24 493.70) rotate(-90)">R+O</text>
<text x="375.90" y="382.70" font-size="7.6" text-anchor="middle" font-weight="normal" fill="#2a2a2a" >ET 4082-K</text>
<rect x="179.10" y="543.70" width="9.50" height="95.30" fill="#d98c14" />
<rect x="191.10" y="554.40" width="9.20" height="84.60" fill="#d98c14" />
<rect x="203.10" y="561.90" width="9.20" height="77.10" fill="#d98c14" />
<rect x="215.30" y="629.00" width="9.50" height="10.00" fill="#d98c14" />
<line x1="171.20" y1="639.00" x2="231.00" y2="639.00" stroke="#161616" stroke-width="1.2" />
<line x1="171.60" y1="540.70" x2="171.60" y2="639.00" stroke="#161616" stroke-width="1.2" />
<line x1="168.70" y1="639.00" x2="171.60" y2="639.00" stroke="#161616" stroke-width="1.08" />
<text x="0" y="0" font-size="8.505" text-anchor="end" font-weight="normal" fill="#2a2a2a" transform="translate(165.40 641.79) scale(0.95 1)" >0</text>
<line x1="168.70" y1="617.35" x2="171.60" y2="617.35" stroke="#161616" stroke-width="1.08" />
<text x="0" y="0" font-size="8.505" text-anchor="end" font-weight="normal" fill="#2a2a2a" transform="translate(165.40 620.14) scale(0.95 1)" >500</text>
<line x1="168.70" y1="595.70" x2="171.60" y2="595.70" stroke="#161616" stroke-width="1.08" />
<text x="0" y="0" font-size="8.505" text-anchor="end" font-weight="normal" fill="#2a2a2a" transform="translate(165.40 598.49) scale(0.95 1)" >1000</text>
<line x1="168.70" y1="574.05" x2="171.60" y2="574.05" stroke="#161616" stroke-width="1.08" />
<text x="0" y="0" font-size="8.505" text-anchor="end" font-weight="normal" fill="#2a2a2a" transform="translate(165.40 576.84) scale(0.95 1)" >1500</text>
<line x1="168.70" y1="552.40" x2="171.60" y2="552.40" stroke="#161616" stroke-width="1.08" />
<text x="0" y="0" font-size="8.505" text-anchor="end" font-weight="normal" fill="#2a2a2a" transform="translate(165.40 555.19) scale(0.95 1)" >2000</text>
<text x="0" y="0" font-size="8.3" text-anchor="end" fill="#2a2a2a" transform="translate(186.34 641.90) rotate(-90)">C</text>
<text x="0" y="0" font-size="8.3" text-anchor="end" fill="#2a2a2a" transform="translate(198.19 641.90) rotate(-90)">O</text>
<text x="0" y="0" font-size="8.3" text-anchor="end" fill="#2a2a2a" transform="translate(210.19 641.90) rotate(-90)">R</text>
<text x="0" y="0" font-size="8.3" text-anchor="end" fill="#2a2a2a" transform="translate(222.54 641.90) rotate(-90)">R+O</text>
<text x="201.30" y="534.60" font-size="7.6" text-anchor="middle" font-weight="normal" fill="#2a2a2a" >PV 338-S</text>
<rect x="264.00" y="543.90" width="9.00" height="95.00" fill="#d98c14" />
<rect x="275.60" y="543.00" width="9.20" height="95.90" fill="#d98c14" />
<rect x="288.10" y="556.20" width="8.70" height="82.70" fill="#d98c14" />
<rect x="299.90" y="615.50" width="9.00" height="23.40" fill="#d98c14" />
<line x1="255.20" y1="638.90" x2="314.90" y2="638.90" stroke="#161616" stroke-width="1.2" />
<line x1="255.60" y1="540.50" x2="255.60" y2="638.90" stroke="#161616" stroke-width="1.2" />
<line x1="252.70" y1="638.90" x2="255.60" y2="638.90" stroke="#161616" stroke-width="1.08" />
<text x="0" y="0" font-size="8.505" text-anchor="end" font-weight="normal" fill="#2a2a2a" transform="translate(249.40 641.69) scale(0.95 1)" >0</text>
<line x1="252.70" y1="625.33" x2="255.60" y2="625.33" stroke="#161616" stroke-width="1.08" />
<text x="0" y="0" font-size="8.505" text-anchor="end" font-weight="normal" fill="#2a2a2a" transform="translate(249.40 628.12) scale(0.95 1)" >20</text>
<line x1="252.70" y1="611.76" x2="255.60" y2="611.76" stroke="#161616" stroke-width="1.08" />
<text x="0" y="0" font-size="8.505" text-anchor="end" font-weight="normal" fill="#2a2a2a" transform="translate(249.40 614.55) scale(0.95 1)" >40</text>
<line x1="252.70" y1="598.19" x2="255.60" y2="598.19" stroke="#161616" stroke-width="1.08" />
<text x="0" y="0" font-size="8.505" text-anchor="end" font-weight="normal" fill="#2a2a2a" transform="translate(249.40 600.98) scale(0.95 1)" >60</text>
<line x1="252.70" y1="584.61" x2="255.60" y2="584.61" stroke="#161616" stroke-width="1.08" />
<text x="0" y="0" font-size="8.505" text-anchor="end" font-weight="normal" fill="#2a2a2a" transform="translate(249.40 587.41) scale(0.95 1)" >80</text>
<line x1="252.70" y1="571.04" x2="255.60" y2="571.04" stroke="#161616" stroke-width="1.08" />
<text x="0" y="0" font-size="8.505" text-anchor="end" font-weight="normal" fill="#2a2a2a" transform="translate(249.40 573.84) scale(0.95 1)" >100</text>
<line x1="252.70" y1="557.47" x2="255.60" y2="557.47" stroke="#161616" stroke-width="1.08" />
<text x="0" y="0" font-size="8.505" text-anchor="end" font-weight="normal" fill="#2a2a2a" transform="translate(249.40 560.27) scale(0.95 1)" >120</text>
<line x1="252.70" y1="543.90" x2="255.60" y2="543.90" stroke="#161616" stroke-width="1.08" />
<text x="0" y="0" font-size="8.505" text-anchor="end" font-weight="normal" fill="#2a2a2a" transform="translate(249.40 546.69) scale(0.95 1)" >140</text>
<text x="0" y="0" font-size="8.3" text-anchor="end" fill="#2a2a2a" transform="translate(270.99 641.80) rotate(-90)">C</text>
<text x="0" y="0" font-size="8.3" text-anchor="end" fill="#2a2a2a" transform="translate(282.69 641.80) rotate(-90)">O</text>
<text x="0" y="0" font-size="8.3" text-anchor="end" fill="#2a2a2a" transform="translate(294.94 641.80) rotate(-90)">R</text>
<text x="0" y="0" font-size="8.3" text-anchor="end" fill="#2a2a2a" transform="translate(306.89 641.80) rotate(-90)">R+O</text>
<text x="285.50" y="534.70" font-size="7.6" text-anchor="middle" font-weight="normal" fill="#2a2a2a" >PV 742-K</text>
<rect x="353.70" y="541.80" width="9.70" height="96.70" fill="#d98c14" />
<rect x="365.90" y="556.10" width="9.20" height="82.40" fill="#d98c14" />
<rect x="377.90" y="551.00" width="9.70" height="87.50" fill="#d98c14" />
<rect x="389.90" y="623.50" width="9.40" height="15.00" fill="#d98c14" />
<line x1="345.30" y1="638.50" x2="405.50" y2="638.50" stroke="#161616" stroke-width="1.2" />
<line x1="345.70" y1="537.50" x2="345.70" y2="638.50" stroke="#161616" stroke-width="1.2" />
<line x1="342.80" y1="638.50" x2="345.70" y2="638.50" stroke="#161616" stroke-width="1.08" />
<text x="0" y="0" font-size="8.505" text-anchor="end" font-weight="normal" fill="#2a2a2a" transform="translate(339.50 641.29) scale(0.95 1)" >0</text>
<line x1="342.80" y1="626.19" x2="345.70" y2="626.19" stroke="#161616" stroke-width="1.08" />
<text x="0" y="0" font-size="8.505" text-anchor="end" font-weight="normal" fill="#2a2a2a" transform="translate(339.50 628.98) scale(0.95 1)" >20</text>
<line x1="342.80" y1="613.88" x2="345.70" y2="613.88" stroke="#161616" stroke-width="1.08" />
<text x="0" y="0" font-size="8.505" text-anchor="end" font-weight="normal" fill="#2a2a2a" transform="translate(339.50 616.67) scale(0.95 1)" >40</text>
<line x1="342.80" y1="601.56" x2="345.70" y2="601.56" stroke="#161616" stroke-width="1.08" />
<text x="0" y="0" font-size="8.505" text-anchor="end" font-weight="normal" fill="#2a2a2a" transform="translate(339.50 604.36) scale(0.95 1)" >60</text>
<line x1="342.80" y1="589.25" x2="345.70" y2="589.25" stroke="#161616" stroke-width="1.08" />
<text x="0" y="0" font-size="8.505" text-anchor="end" font-weight="normal" fill="#2a2a2a" transform="translate(339.50 592.04) scale(0.95 1)" >80</text>
<line x1="342.80" y1="576.94" x2="345.70" y2="576.94" stroke="#161616" stroke-width="1.08" />
<text x="0" y="0" font-size="8.505" text-anchor="end" font-weight="normal" fill="#2a2a2a" transform="translate(339.50 579.73) scale(0.95 1)" >100</text>
<line x1="342.80" y1="564.62" x2="345.70" y2="564.62" stroke="#161616" stroke-width="1.08" />
<text x="0" y="0" font-size="8.505" text-anchor="end" font-weight="normal" fill="#2a2a2a" transform="translate(339.50 567.42) scale(0.95 1)" >120</text>
<line x1="342.80" y1="552.31" x2="345.70" y2="552.31" stroke="#161616" stroke-width="1.08" />
<text x="0" y="0" font-size="8.505" text-anchor="end" font-weight="normal" fill="#2a2a2a" transform="translate(339.50 555.11) scale(0.95 1)" >140</text>
<line x1="342.80" y1="540.00" x2="345.70" y2="540.00" stroke="#161616" stroke-width="1.08" />
<text x="0" y="0" font-size="8.505" text-anchor="end" font-weight="normal" fill="#2a2a2a" transform="translate(339.50 542.79) scale(0.95 1)" >160</text>
<text x="0" y="0" font-size="8.3" text-anchor="end" fill="#2a2a2a" transform="translate(361.04 641.40) rotate(-90)">C</text>
<text x="0" y="0" font-size="8.3" text-anchor="end" fill="#2a2a2a" transform="translate(372.99 641.40) rotate(-90)">O</text>
<text x="0" y="0" font-size="8.3" text-anchor="end" fill="#2a2a2a" transform="translate(385.24 641.40) rotate(-90)">R</text>
<text x="0" y="0" font-size="8.3" text-anchor="end" fill="#2a2a2a" transform="translate(397.09 641.40) rotate(-90)">R+O</text>
<text x="375.60" y="534.80" font-size="7.6" text-anchor="middle" font-weight="normal" fill="#2a2a2a" >ET 4082-K</text>
<text x="136.00" y="438.60" font-size="9.0" text-anchor="middle" font-weight="normal" fill="#2a2a2a" transform="rotate(-90 136.00 438.60)" >Number of proliferating cells</text>
<text x="141.00" y="589.90" font-size="8.7" text-anchor="middle" font-weight="normal" fill="#2a2a2a" transform="rotate(-90 141.00 589.90)" >Number of quiescent cells</text>
<text x="421.90" y="354.60" font-size="11.5" text-anchor="start" font-weight="bold" fill="#111" >E</text>
<rect x="457.90" y="392.40" width="10.10" height="98.00" fill="#d98c14" />
<rect x="471.80" y="426.00" width="9.60" height="64.40" fill="#d98c14" />
<rect x="485.20" y="438.10" width="9.80" height="52.30" fill="#d98c14" />
<rect x="498.80" y="482.30" width="10.10" height="8.10" fill="#d98c14" />
<line x1="476.60" y1="415.90" x2="476.60" y2="426.00" stroke="#262626" stroke-width="1.2" />
<line x1="475.00" y1="416.20" x2="478.20" y2="416.20" stroke="#262626" stroke-width="1.5" />
<line x1="490.10" y1="430.50" x2="490.10" y2="438.10" stroke="#262626" stroke-width="1.2" />
<line x1="488.50" y1="430.80" x2="491.70" y2="430.80" stroke="#262626" stroke-width="1.5" />
<line x1="503.85" y1="479.50" x2="503.85" y2="482.30" stroke="#262626" stroke-width="1.2" />
<line x1="502.25" y1="479.80" x2="505.45" y2="479.80" stroke="#262626" stroke-width="1.5" />
<line x1="453.20" y1="490.40" x2="512.20" y2="490.40" stroke="#161616" stroke-width="1.2" />
<line x1="453.60" y1="389.40" x2="453.60" y2="490.40" stroke="#161616" stroke-width="1.2" />
<line x1="450.70" y1="490.40" x2="453.60" y2="490.40" stroke="#161616" stroke-width="1.08" />
<text x="0" y="0" font-size="8.505" text-anchor="end" font-weight="normal" fill="#2a2a2a" transform="translate(447.00 493.19) scale(0.95 1)" >0</text>
<line x1="450.70" y1="470.70" x2="453.60" y2="470.70" stroke="#161616" stroke-width="1.08" />
<text x="0" y="0" font-size="8.505" text-anchor="end" font-weight="normal" fill="#2a2a2a" transform="translate(447.00 473.49) scale(0.95 1)" >20</text>
<line x1="450.70" y1="451.00" x2="453.60" y2="451.00" stroke="#161616" stroke-width="1.08" />
<text x="0" y="0" font-size="8.505" text-anchor="end" font-weight="normal" fill="#2a2a2a" transform="translate(447.00 453.79) scale(0.95 1)" >40</text>
<line x1="450.70" y1="431.30" x2="453.60" y2="431.30" stroke="#161616" stroke-width="1.08" />
<text x="0" y="0" font-size="8.505" text-anchor="end" font-weight="normal" fill="#2a2a2a" transform="translate(447.00 434.09) scale(0.95 1)" >60</text>
<line x1="450.70" y1="411.60" x2="453.60" y2="411.60" stroke="#161616" stroke-width="1.08" />
<text x="0" y="0" font-size="8.505" text-anchor="end" font-weight="normal" fill="#2a2a2a" transform="translate(447.00 414.39) scale(0.95 1)" >80</text>
<line x1="450.70" y1="391.90" x2="453.60" y2="391.90" stroke="#161616" stroke-width="1.08" />
<text x="0" y="0" font-size="8.505" text-anchor="end" font-weight="normal" fill="#2a2a2a" transform="translate(447.00 394.69) scale(0.95 1)" >100</text>
<text x="0" y="0" font-size="8.3" text-anchor="end" fill="#2a2a2a" transform="translate(465.44 493.40) rotate(-90)">C</text>
<text x="0" y="0" font-size="8.3" text-anchor="end" fill="#2a2a2a" transform="translate(479.09 493.40) rotate(-90)">O</text>
<text x="0" y="0" font-size="8.3" text-anchor="end" fill="#2a2a2a" transform="translate(492.59 493.40) rotate(-90)">R</text>
<text x="0" y="0" font-size="8.3" text-anchor="end" fill="#2a2a2a" transform="translate(506.34 493.40) rotate(-90)">R+O</text>
<circle cx="503.85" cy="474.40" r="1.3" fill="#1a1a1a"/>
<rect x="458.00" y="540.40" width="10.10" height="98.40" fill="#d98c14" />
<rect x="471.40" y="548.30" width="9.80" height="90.50" fill="#d98c14" />
<rect x="485.00" y="557.00" width="9.60" height="81.80" fill="#d98c14" />
<rect x="498.90" y="622.60" width="9.80" height="16.20" fill="#d98c14" />
<line x1="476.30" y1="540.60" x2="476.30" y2="548.30" stroke="#262626" stroke-width="1.2" />
<line x1="474.70" y1="540.90" x2="477.90" y2="540.90" stroke="#262626" stroke-width="1.5" />
<line x1="489.80" y1="550.90" x2="489.80" y2="557.00" stroke="#262626" stroke-width="1.2" />
<line x1="488.20" y1="551.20" x2="491.40" y2="551.20" stroke="#262626" stroke-width="1.5" />
<line x1="503.80" y1="614.90" x2="503.80" y2="622.60" stroke="#262626" stroke-width="1.2" />
<line x1="502.20" y1="615.20" x2="505.40" y2="615.20" stroke="#262626" stroke-width="1.5" />
<line x1="453.20" y1="638.80" x2="512.20" y2="638.80" stroke="#161616" stroke-width="1.2" />
<line x1="453.60" y1="537.30" x2="453.60" y2="638.80" stroke="#161616" stroke-width="1.2" />
<line x1="450.70" y1="638.80" x2="453.60" y2="638.80" stroke="#161616" stroke-width="1.08" />
<text x="0" y="0" font-size="8.505" text-anchor="end" font-weight="normal" fill="#2a2a2a" transform="translate(447.00 641.59) scale(0.95 1)" >0</text>
<line x1="450.70" y1="619.00" x2="453.60" y2="619.00" stroke="#161616" stroke-width="1.08" />
<text x="0" y="0" font-size="8.505" text-anchor="end" font-weight="normal" fill="#2a2a2a" transform="translate(447.00 621.79) scale(0.95 1)" >20</text>
<line x1="450.70" y1="599.20" x2="453.60" y2="599.20" stroke="#161616" stroke-width="1.08" />
<text x="0" y="0" font-size="8.505" text-anchor="end" font-weight="normal" fill="#2a2a2a" transform="translate(447.00 601.99) scale(0.95 1)" >40</text>
<line x1="450.70" y1="579.40" x2="453.60" y2="579.40" stroke="#161616" stroke-width="1.08" />
<text x="0" y="0" font-size="8.505" text-anchor="end" font-weight="normal" fill="#2a2a2a" transform="translate(447.00 582.19) scale(0.95 1)" >60</text>
<line x1="450.70" y1="559.60" x2="453.60" y2="559.60" stroke="#161616" stroke-width="1.08" />
<text x="0" y="0" font-size="8.505" text-anchor="end" font-weight="normal" fill="#2a2a2a" transform="translate(447.00 562.39) scale(0.95 1)" >80</text>
<line x1="450.70" y1="539.80" x2="453.60" y2="539.80" stroke="#161616" stroke-width="1.08" />
<text x="0" y="0" font-size="8.505" text-anchor="end" font-weight="normal" fill="#2a2a2a" transform="translate(447.00 542.59) scale(0.95 1)" >100</text>
<text x="0" y="0" font-size="8.3" text-anchor="end" fill="#2a2a2a" transform="translate(465.54 641.80) rotate(-90)">C</text>
<text x="0" y="0" font-size="8.3" text-anchor="end" fill="#2a2a2a" transform="translate(478.79 641.80) rotate(-90)">O</text>
<text x="0" y="0" font-size="8.3" text-anchor="end" fill="#2a2a2a" transform="translate(492.29 641.80) rotate(-90)">R</text>
<text x="0" y="0" font-size="8.3" text-anchor="end" fill="#2a2a2a" transform="translate(506.29 641.80) rotate(-90)">R+O</text>
<circle cx="501.80" cy="609.30" r="1.3" fill="#1a1a1a"/>
<circle cx="505.80" cy="609.30" r="1.3" fill="#1a1a1a"/>
<text x="427.00" y="440.50" font-size="8.9" text-anchor="middle" font-weight="normal" fill="#2a2a2a" transform="rotate(-90 427.00 440.50)" >% proliferating cells</text>
<text x="428.00" y="588.70" font-size="8.85" text-anchor="middle" font-weight="normal" fill="#2a2a2a" transform="rotate(-90 428.00 588.70)" >% quiescent cells</text>
</svg>
</body></html>
